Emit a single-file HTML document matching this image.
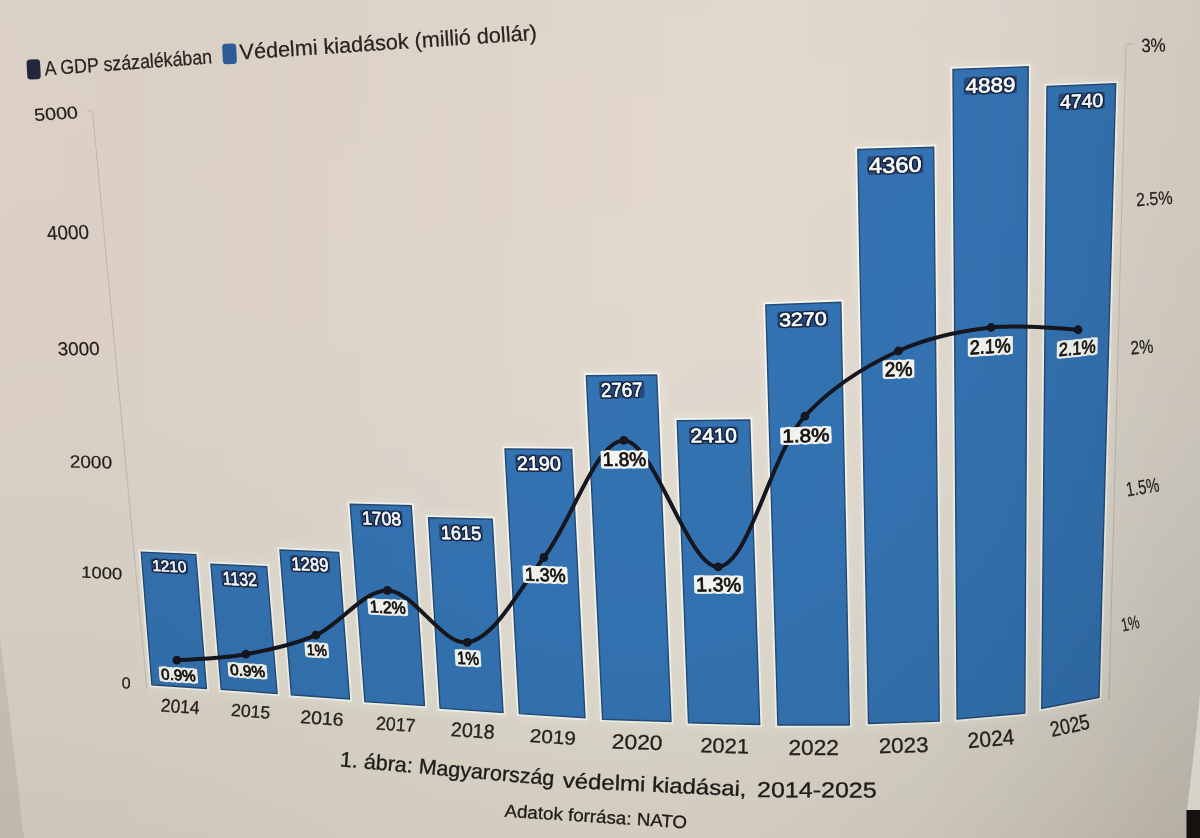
<!DOCTYPE html>
<html><head><meta charset="utf-8"><style>
html,body{margin:0;padding:0;width:1200px;height:838px;overflow:hidden;background:#cfc2b2}
svg{display:block}
text{font-family:"Liberation Sans",Arial,sans-serif}
.ax{fill:#221e1b;stroke:#221e1b;stroke-width:0.2px}
.yr{fill:#28221e;stroke:#28221e;stroke-width:0.3px}
.leg{fill:#2a2421;stroke:#2a2421;stroke-width:0.25px}
.cap{fill:#211c19;stroke:#211c19;stroke-width:0.35px}
.src{fill:#211c19;stroke:#211c19;stroke-width:0.3px}
.val{fill:#ffffff;stroke:#ffffff;stroke-width:0.7px;stroke-linejoin:round;text-anchor:middle}
.vhalo{fill:#15233f;stroke:#15233f;stroke-width:3.6px;stroke-linejoin:round;text-anchor:middle}
.pct{fill:#160f0a;stroke:#160f0a;stroke-width:0.75px;text-anchor:middle}
.phalo{fill:#fffdf7;stroke:#fffdf7;stroke-width:5px;stroke-linejoin:round;text-anchor:middle}
.pbox{fill:#fffdf7}
.vbox{fill:#1b2c50;opacity:0.55}
.ax,.yr{text-anchor:middle}
.illum{mix-blend-mode:multiply}
</style></head><body>
<svg width="1200" height="838" viewBox="0 0 1200 838">
<defs>
<filter id="bgblur" x="-5%" y="-5%" width="110%" height="110%"><feGaussianBlur stdDeviation="0 5"/></filter>
<filter id="glow" x="-20%" y="-20%" width="140%" height="140%"><feGaussianBlur stdDeviation="3"/></filter>
<filter id="soft" x="-5%" y="-5%" width="110%" height="110%"><feGaussianBlur stdDeviation="0.6"/></filter>
</defs>
<rect x="0" y="0" width="1200" height="838" fill="rgb(226,216,205)"/>
<g stroke="#b1aa9d" stroke-width="1" fill="none" opacity="0.6">
<path d="M92.5,111 L147,690"/>
<path d="M87,110.6 L92.5,111"/>
<path d="M1126,44 L1109,700"/>
<path d="M1126,44 L1134,43.8"/>
</g>
<g fill="none" stroke="#fffaf2" stroke-width="14" stroke-linejoin="round" opacity="0.16" filter="url(#glow)">
<polygon points="141.25,552.1 195.8,554.6 206.4,688.4 151.9,684.75"/>
<polygon points="210.9,564.3 266.7,566.7 277.1,693.4 221.2,689.3"/>
<polygon points="280,550 338.7,552.3 349.5,699 291.4,694.8"/>
<polygon points="350.2,504.25 411.25,505.75 424.5,705.6 364.9,701.7"/>
<polygon points="428.5,517.75 492.25,519.25 503,712.5 440.1,708.2"/>
<polygon points="505,448.9 571.6,449.5 585,717.8 519.4,713.6"/>
<polygon points="586.3,375.8 656.7,375 671,721.5 602.6,719.2"/>
<polygon points="677.2,420.8 749.7,420 759.7,724.5 688.5,722.7"/>
<polygon points="765.8,305 840.8,302.2 849.4,725 777.9,725"/>
<polygon points="857.8,149.5 933.7,147.2 939.2,721.1 868.5,723.5"/>
<polygon points="953,69.5 1028.2,66.7 1024.8,713.2 957.1,719"/>
<polygon points="1047,86.5 1115.7,83.7 1099,697.3 1041.8,708.5"/>
</g>
<g fill="none" stroke="#f8f7f2" stroke-width="5" stroke-linejoin="miter">
<polygon points="141.25,552.1 195.8,554.6 206.4,688.4 151.9,684.75"/>
<polygon points="210.9,564.3 266.7,566.7 277.1,693.4 221.2,689.3"/>
<polygon points="280,550 338.7,552.3 349.5,699 291.4,694.8"/>
<polygon points="350.2,504.25 411.25,505.75 424.5,705.6 364.9,701.7"/>
<polygon points="428.5,517.75 492.25,519.25 503,712.5 440.1,708.2"/>
<polygon points="505,448.9 571.6,449.5 585,717.8 519.4,713.6"/>
<polygon points="586.3,375.8 656.7,375 671,721.5 602.6,719.2"/>
<polygon points="677.2,420.8 749.7,420 759.7,724.5 688.5,722.7"/>
<polygon points="765.8,305 840.8,302.2 849.4,725 777.9,725"/>
<polygon points="857.8,149.5 933.7,147.2 939.2,721.1 868.5,723.5"/>
<polygon points="953,69.5 1028.2,66.7 1024.8,713.2 957.1,719"/>
<polygon points="1047,86.5 1115.7,83.7 1099,697.3 1041.8,708.5"/>
</g>
<g fill="#3473b3" stroke="#264a74" stroke-width="1.4" stroke-linejoin="miter">
<polygon points="141.25,552.1 195.8,554.6 206.4,688.4 151.9,684.75"/>
<polygon points="210.9,564.3 266.7,566.7 277.1,693.4 221.2,689.3"/>
<polygon points="280,550 338.7,552.3 349.5,699 291.4,694.8"/>
<polygon points="350.2,504.25 411.25,505.75 424.5,705.6 364.9,701.7"/>
<polygon points="428.5,517.75 492.25,519.25 503,712.5 440.1,708.2"/>
<polygon points="505,448.9 571.6,449.5 585,717.8 519.4,713.6"/>
<polygon points="586.3,375.8 656.7,375 671,721.5 602.6,719.2"/>
<polygon points="677.2,420.8 749.7,420 759.7,724.5 688.5,722.7"/>
<polygon points="765.8,305 840.8,302.2 849.4,725 777.9,725"/>
<polygon points="857.8,149.5 933.7,147.2 939.2,721.1 868.5,723.5"/>
<polygon points="953,69.5 1028.2,66.7 1024.8,713.2 957.1,719"/>
<polygon points="1047,86.5 1115.7,83.7 1099,697.3 1041.8,708.5"/>
</g>
<path d="M176.9,660.1 C176.9,660.1 222.92,658.25 245.8,654.2 C269.23,650.05 293.04,645.14 315.8,635.2 C340.37,624.47 363.02,590.18 387.5,590.4 C413.48,590.63 442.37,645.59 467.4,642.3 C494.82,638.7 519.15,588.88 543.9,557.4 C571.46,522.35 595.62,441 623.8,440.4 C653.54,439.77 688.65,568.56 718.2,566.8 C749.21,564.95 770.71,453.49 804.9,416.2 C832.59,386 865.89,365.85 898.4,351 C928.18,337.39 960.46,330.92 991.1,327.5 C1020.33,324.24 1078.1,329.75 1078.1,329.75" fill="none" stroke="#15161f" stroke-width="4" stroke-linecap="round" stroke-linejoin="round"/>
<g fill="#15161f">
<circle cx="176.9" cy="660.1" r="4.4"/>
<circle cx="245.8" cy="654.2" r="4.4"/>
<circle cx="315.8" cy="635.2" r="4.4"/>
<circle cx="387.5" cy="590.4" r="4.4"/>
<circle cx="467.4" cy="642.3" r="4.4"/>
<circle cx="543.9" cy="557.4" r="4.4"/>
<circle cx="623.8" cy="440.4" r="4.4"/>
<circle cx="718.2" cy="566.8" r="4.4"/>
<circle cx="804.9" cy="416.2" r="4.4"/>
<circle cx="898.4" cy="351" r="4.4"/>
<circle cx="991.1" cy="327.5" r="4.4"/>
<circle cx="1078.1" cy="329.75" r="4.4"/>
</g>
<g opacity="0.96">
<rect class="pbox" transform="matrix(0.9979 0.0650 0.0795 0.9968 178.4 675)" x="-19.29" y="-7.39" width="38.57" height="14.78" rx="1.5"/>
<text class="phalo" transform="matrix(0.9979 0.0650 0.0795 0.9968 178.4 675)" y="5.39" font-size="15.39" textLength="34.57" lengthAdjust="spacingAndGlyphs">0.9%</text>
<rect class="pbox" transform="matrix(0.9977 0.0682 0.0820 0.9966 247.5 670.7)" x="-19.58" y="-7.31" width="39.16" height="14.63" rx="1.5"/>
<text class="phalo" transform="matrix(0.9977 0.0682 0.0820 0.9966 247.5 670.7)" y="5.31" font-size="15.18" textLength="35.16" lengthAdjust="spacingAndGlyphs">0.9%</text>
<rect class="pbox" transform="matrix(0.9981 0.0615 0.0760 0.9971 316.75 650)" x="-11.94" y="-7.4" width="23.87" height="14.8" rx="1.5"/>
<text class="phalo" transform="matrix(0.9981 0.0615 0.0760 0.9971 316.75 650)" y="5.4" font-size="15.43" textLength="19.87" lengthAdjust="spacingAndGlyphs">1%</text>
<rect class="pbox" transform="matrix(0.9990 0.0455 0.0702 0.9975 387.75 607.25)" x="-20" y="-7.94" width="40" height="15.87" rx="1.5"/>
<text class="phalo" transform="matrix(0.9990 0.0455 0.0702 0.9975 387.75 607.25)" y="5.94" font-size="16.96" textLength="36" lengthAdjust="spacingAndGlyphs">1.2%</text>
<rect class="pbox" transform="matrix(0.9984 0.0561 0.0582 0.9983 468 658.15)" x="-12.97" y="-8.25" width="25.93" height="16.49" rx="1.5"/>
<text class="phalo" transform="matrix(0.9984 0.0561 0.0582 0.9983 468 658.15)" y="6.25" font-size="17.84" textLength="21.93" lengthAdjust="spacingAndGlyphs">1%</text>
<rect class="pbox" transform="matrix(0.9994 0.0349 0.0521 0.9986 545.2 574.75)" x="-22.38" y="-8.54" width="44.77" height="17.09" rx="1.5"/>
<text class="phalo" transform="matrix(0.9994 0.0349 0.0521 0.9986 545.2 574.75)" y="6.54" font-size="18.69" textLength="40.77" lengthAdjust="spacingAndGlyphs">1.3%</text>
<rect class="pbox" transform="matrix(1.0000 -0.0004 0.0444 0.9990 624.45 459.55)" x="-23.65" y="-8.84" width="47.29" height="17.68" rx="1.5"/>
<text class="phalo" transform="matrix(1.0000 -0.0004 0.0444 0.9990 624.45 459.55)" y="6.84" font-size="19.55" textLength="43.29" lengthAdjust="spacingAndGlyphs">1.8%</text>
<rect class="pbox" transform="matrix(1.0000 0.0086 0.0351 0.9994 718.65 584.45)" x="-24.59" y="-8.96" width="49.18" height="17.91" rx="1.5"/>
<text class="phalo" transform="matrix(1.0000 0.0086 0.0351 0.9994 718.65 584.45)" y="6.96" font-size="19.87" textLength="45.18" lengthAdjust="spacingAndGlyphs">1.3%</text>
<rect class="pbox" transform="matrix(0.9997 -0.0256 0.0246 0.9997 805.85 435.4)" x="-25.59" y="-8.6" width="51.18" height="17.19" rx="1.5"/>
<text class="phalo" transform="matrix(0.9997 -0.0256 0.0246 0.9997 805.85 435.4)" y="6.6" font-size="18.85" textLength="47.18" lengthAdjust="spacingAndGlyphs">1.8%</text>
<rect class="pbox" transform="matrix(0.9995 -0.0317 0.0142 0.9999 898.5 369.05)" x="-15.88" y="-9.11" width="31.76" height="18.23" rx="1.5"/>
<text class="phalo" transform="matrix(0.9995 -0.0317 0.0142 0.9999 898.5 369.05)" y="7.11" font-size="20.32" textLength="27.76" lengthAdjust="spacingAndGlyphs">2%</text>
<rect class="pbox" transform="matrix(0.9983 -0.0579 0.0006 1.0000 990.35 346.25)" x="-22.58" y="-8.97" width="45.16" height="17.94" rx="1.5"/>
<text class="phalo" transform="matrix(0.9983 -0.0579 0.0006 1.0000 990.35 346.25)" y="6.97" font-size="19.91" textLength="41.16" lengthAdjust="spacingAndGlyphs">2.1%</text>
<rect class="pbox" transform="matrix(0.9944 -0.1054 -0.0179 0.9998 1077.2 347.85)" x="-20.51" y="-8.53" width="41.03" height="17.07" rx="1.5"/>
<text class="phalo" transform="matrix(0.9944 -0.1054 -0.0179 0.9998 1077.2 347.85)" y="6.53" font-size="18.67" textLength="37.03" lengthAdjust="spacingAndGlyphs">2.1%</text>
</g>
<rect class="vbox" transform="matrix(0.9989 0.0478 0.0795 0.9968 169.4 566.25)" x="-18.66" y="-7.04" width="37.32" height="14.08" rx="2.5"/>
<text class="vhalo" transform="matrix(0.9989 0.0478 0.0795 0.9968 169.4 566.25)" y="5.44" font-size="15.54" textLength="34.12" lengthAdjust="spacingAndGlyphs">1210</text>
<rect class="vbox" transform="matrix(0.9989 0.0462 0.0820 0.9966 239.8 578.85)" x="-18.61" y="-8.17" width="37.23" height="16.34" rx="2.5"/>
<text class="vhalo" transform="matrix(0.9989 0.0462 0.0820 0.9966 239.8 578.85)" y="6.57" font-size="18.78" textLength="34.03" lengthAdjust="spacingAndGlyphs">1132</text>
<rect class="vbox" transform="matrix(0.9991 0.0421 0.0760 0.9971 309.95 564.2)" x="-19.99" y="-8.13" width="39.98" height="16.26" rx="2.5"/>
<text class="vhalo" transform="matrix(0.9991 0.0421 0.0760 0.9971 309.95 564.2)" y="6.53" font-size="18.66" textLength="36.78" lengthAdjust="spacingAndGlyphs">1289</text>
<rect class="vbox" transform="matrix(0.9996 0.0273 0.0702 0.9975 381.57 518.42)" x="-21.1" y="-8.24" width="42.2" height="16.49" rx="2.5"/>
<text class="vhalo" transform="matrix(0.9996 0.0273 0.0702 0.9975 381.57 518.42)" y="6.64" font-size="18.99" textLength="39" lengthAdjust="spacingAndGlyphs">1708</text>
<rect class="vbox" transform="matrix(0.9996 0.0269 0.0582 0.9983 460.93 532.8)" x="-21.75" y="-8.26" width="43.51" height="16.52" rx="2.5"/>
<text class="vhalo" transform="matrix(0.9996 0.0269 0.0582 0.9983 460.93 532.8)" y="6.66" font-size="19.03" textLength="40.31" lengthAdjust="spacingAndGlyphs">1615</text>
<rect class="vbox" transform="matrix(0.9999 0.0119 0.0521 0.9986 538.8 463.2)" x="-23.52" y="-8.54" width="47.04" height="17.08" rx="2.5"/>
<text class="vhalo" transform="matrix(0.9999 0.0119 0.0521 0.9986 538.8 463.2)" y="6.94" font-size="19.83" textLength="43.84" lengthAdjust="spacingAndGlyphs">2190</text>
<rect class="vbox" transform="matrix(1.0000 -0.0095 0.0444 0.9990 621.8 389.7)" x="-22.53" y="-8.6" width="45.07" height="17.2" rx="2.5"/>
<text class="vhalo" transform="matrix(1.0000 -0.0095 0.0444 0.9990 621.8 389.7)" y="7" font-size="20" textLength="41.87" lengthAdjust="spacingAndGlyphs">2767</text>
<rect class="vbox" transform="matrix(1.0000 -0.0092 0.0351 0.9994 713.7 435.4)" x="-24.74" y="-8.59" width="49.47" height="17.17" rx="2.5"/>
<text class="vhalo" transform="matrix(1.0000 -0.0092 0.0351 0.9994 713.7 435.4)" y="6.99" font-size="19.96" textLength="46.27" lengthAdjust="spacingAndGlyphs">2410</text>
<rect class="vbox" transform="matrix(0.9994 -0.0359 0.0247 0.9997 802.83 319.1)" x="-25.46" y="-8.15" width="50.91" height="16.29" rx="2.5"/>
<text class="vhalo" transform="matrix(0.9994 -0.0359 0.0247 0.9997 802.83 319.1)" y="6.55" font-size="18.71" textLength="47.71" lengthAdjust="spacingAndGlyphs">3270</text>
<rect class="vbox" transform="matrix(0.9995 -0.0304 0.0142 0.9999 895.27 164.85)" x="-27.9" y="-9.25" width="55.81" height="18.51" rx="2.5"/>
<text class="vhalo" transform="matrix(0.9995 -0.0304 0.0142 0.9999 895.27 164.85)" y="7.65" font-size="21.87" textLength="52.61" lengthAdjust="spacingAndGlyphs">4360</text>
<rect class="vbox" transform="matrix(0.9993 -0.0385 0.0005 1.0000 990.5 85.2)" x="-26.54" y="-8.75" width="53.09" height="17.49" rx="2.5"/>
<text class="vhalo" transform="matrix(0.9993 -0.0385 0.0005 1.0000 990.5 85.2)" y="7.15" font-size="20.42" textLength="49.89" lengthAdjust="spacingAndGlyphs">4889</text>
<rect class="vbox" transform="matrix(0.9990 -0.0447 -0.0179 0.9998 1081.65 101.05)" x="-23.27" y="-8.39" width="46.54" height="16.78" rx="2.5"/>
<text class="vhalo" transform="matrix(0.9990 -0.0447 -0.0179 0.9998 1081.65 101.05)" y="6.79" font-size="19.4" textLength="43.34" lengthAdjust="spacingAndGlyphs">4740</text>
<g>
<text class="ax" transform="matrix(0.9983 -0.0584 0.1106 0.9939 55.95 113.55)" y="6.08" font-size="17.37" textLength="43.86" lengthAdjust="spacingAndGlyphs">5000</text>
<text class="ax" transform="matrix(0.9995 -0.0307 0.0830 0.9966 67.9 232.25)" y="7.01" font-size="20.03" textLength="41.99" lengthAdjust="spacingAndGlyphs">4000</text>
<text class="ax" transform="matrix(1.0000 -0.0035 0.0558 0.9984 78.6 348.5)" y="6.63" font-size="18.93" textLength="41.95" lengthAdjust="spacingAndGlyphs">3000</text>
<text class="ax" transform="matrix(0.9997 0.0230 0.0294 0.9996 90.9 461.7)" y="6.22" font-size="17.76" textLength="42.33" lengthAdjust="spacingAndGlyphs">2000</text>
<text class="ax" transform="matrix(0.9988 0.0490 0.0034 1.0000 101.8 572.9)" y="5.7" font-size="16.29" textLength="41.09" lengthAdjust="spacingAndGlyphs">1000</text>
<text class="ax" transform="matrix(0.9972 0.0747 -0.0224 0.9997 126.05 683)" y="5.68" font-size="16.22" textLength="9.08" lengthAdjust="spacingAndGlyphs">0</text>
<text class="ax" transform="matrix(0.9994 -0.0349 0.0349 0.9994 1153.4 45.05)" y="6.73" font-size="19.22" textLength="24.55" lengthAdjust="spacingAndGlyphs">3%</text>
<text class="ax" transform="matrix(0.9976 -0.0698 0.0698 0.9976 1154.3 198.4)" y="6.54" font-size="18.69" textLength="36.58" lengthAdjust="spacingAndGlyphs">2.5%</text>
<text class="ax" transform="matrix(0.9962 -0.0872 0.0872 0.9962 1141.7 346.7)" y="6.73" font-size="19.22" textLength="22.91" lengthAdjust="spacingAndGlyphs">2%</text>
<text class="ax" transform="matrix(0.9877 -0.1564 0.1564 0.9877 1142.5 486.95)" y="7.04" font-size="20.11" textLength="33.21" lengthAdjust="spacingAndGlyphs">1.5%</text>
<text class="ax" transform="matrix(0.9781 -0.2079 0.2079 0.9781 1130.2 623.2)" y="6.46" font-size="18.45" textLength="18.11" lengthAdjust="spacingAndGlyphs">1%</text>
<text class="yr" transform="matrix(0.9978 0.0663 -0.0663 0.9978 180.3 706.3)" y="6.53" font-size="18.65" textLength="38.82" lengthAdjust="spacingAndGlyphs">2014</text>
<text class="yr" transform="matrix(0.9973 0.0732 -0.0732 0.9973 250.6 711.15)" y="6.14" font-size="17.54" textLength="39.01" lengthAdjust="spacingAndGlyphs">2015</text>
<text class="yr" transform="matrix(0.9974 0.0715 -0.0715 0.9974 322 718)" y="6.47" font-size="18.49" textLength="43.18" lengthAdjust="spacingAndGlyphs">2016</text>
<text class="yr" transform="matrix(0.9979 0.0645 -0.0645 0.9979 395.8 724.2)" y="6.55" font-size="18.71" textLength="39.24" lengthAdjust="spacingAndGlyphs">2017</text>
<text class="yr" transform="matrix(0.9977 0.0680 -0.0680 0.9977 472.75 730.5)" y="7.03" font-size="20.09" textLength="43.64" lengthAdjust="spacingAndGlyphs">2018</text>
<text class="yr" transform="matrix(0.9979 0.0645 -0.0645 0.9979 552.9 736.9)" y="6.63" font-size="18.96" textLength="45.84" lengthAdjust="spacingAndGlyphs">2019</text>
<text class="yr" transform="matrix(0.9995 0.0332 -0.0332 0.9995 637.15 742.05)" y="7.31" font-size="20.89" textLength="50.84" lengthAdjust="spacingAndGlyphs">2020</text>
<text class="yr" transform="matrix(0.9997 0.0244 -0.0244 0.9997 724.7 745.65)" y="7.26" font-size="20.74" textLength="48.66" lengthAdjust="spacingAndGlyphs">2021</text>
<text class="yr" transform="matrix(1.0000 0.0000 -0.0000 1.0000 813.7 746.95)" y="7.95" font-size="22.71" textLength="50.6" lengthAdjust="spacingAndGlyphs">2022</text>
<text class="yr" transform="matrix(0.9997 -0.0262 0.0262 0.9997 903.6 745.15)" y="7.5" font-size="21.43" textLength="49.82" lengthAdjust="spacingAndGlyphs">2023</text>
<text class="yr" transform="matrix(0.9962 -0.0872 0.0872 0.9962 991 738.5)" y="7.69" font-size="21.97" textLength="46.84" lengthAdjust="spacingAndGlyphs">2024</text>
<text class="yr" transform="matrix(0.9763 -0.2164 0.2164 0.9763 1069.8 725.35)" y="7.53" font-size="21.53" textLength="39.68" lengthAdjust="spacingAndGlyphs">2025</text>
<text class="val" transform="matrix(0.9989 0.0478 0.0795 0.9968 169.4 566.25)" y="5.44" font-size="15.54" textLength="34.12" lengthAdjust="spacingAndGlyphs">1210</text>
<text class="val" transform="matrix(0.9989 0.0462 0.0820 0.9966 239.8 578.85)" y="6.57" font-size="18.78" textLength="34.03" lengthAdjust="spacingAndGlyphs">1132</text>
<text class="val" transform="matrix(0.9991 0.0421 0.0760 0.9971 309.95 564.2)" y="6.53" font-size="18.66" textLength="36.78" lengthAdjust="spacingAndGlyphs">1289</text>
<text class="val" transform="matrix(0.9996 0.0273 0.0702 0.9975 381.57 518.42)" y="6.64" font-size="18.99" textLength="39" lengthAdjust="spacingAndGlyphs">1708</text>
<text class="val" transform="matrix(0.9996 0.0269 0.0582 0.9983 460.93 532.8)" y="6.66" font-size="19.03" textLength="40.31" lengthAdjust="spacingAndGlyphs">1615</text>
<text class="val" transform="matrix(0.9999 0.0119 0.0521 0.9986 538.8 463.2)" y="6.94" font-size="19.83" textLength="43.84" lengthAdjust="spacingAndGlyphs">2190</text>
<text class="val" transform="matrix(1.0000 -0.0095 0.0444 0.9990 621.8 389.7)" y="7" font-size="20" textLength="41.87" lengthAdjust="spacingAndGlyphs">2767</text>
<text class="val" transform="matrix(1.0000 -0.0092 0.0351 0.9994 713.7 435.4)" y="6.99" font-size="19.96" textLength="46.27" lengthAdjust="spacingAndGlyphs">2410</text>
<text class="val" transform="matrix(0.9994 -0.0359 0.0247 0.9997 802.83 319.1)" y="6.55" font-size="18.71" textLength="47.71" lengthAdjust="spacingAndGlyphs">3270</text>
<text class="val" transform="matrix(0.9995 -0.0304 0.0142 0.9999 895.27 164.85)" y="7.65" font-size="21.87" textLength="52.61" lengthAdjust="spacingAndGlyphs">4360</text>
<text class="val" transform="matrix(0.9993 -0.0385 0.0005 1.0000 990.5 85.2)" y="7.15" font-size="20.42" textLength="49.89" lengthAdjust="spacingAndGlyphs">4889</text>
<text class="val" transform="matrix(0.9990 -0.0447 -0.0179 0.9998 1081.65 101.05)" y="6.79" font-size="19.4" textLength="43.34" lengthAdjust="spacingAndGlyphs">4740</text>
<text class="pct" transform="matrix(0.9979 0.0650 0.0795 0.9968 178.4 675)" y="5.39" font-size="15.39" textLength="34.57" lengthAdjust="spacingAndGlyphs">0.9%</text>
<text class="pct" transform="matrix(0.9977 0.0682 0.0820 0.9966 247.5 670.7)" y="5.31" font-size="15.18" textLength="35.16" lengthAdjust="spacingAndGlyphs">0.9%</text>
<text class="pct" transform="matrix(0.9981 0.0615 0.0760 0.9971 316.75 650)" y="5.4" font-size="15.43" textLength="19.87" lengthAdjust="spacingAndGlyphs">1%</text>
<text class="pct" transform="matrix(0.9990 0.0455 0.0702 0.9975 387.75 607.25)" y="5.94" font-size="16.96" textLength="36" lengthAdjust="spacingAndGlyphs">1.2%</text>
<text class="pct" transform="matrix(0.9984 0.0561 0.0582 0.9983 468 658.15)" y="6.25" font-size="17.84" textLength="21.93" lengthAdjust="spacingAndGlyphs">1%</text>
<text class="pct" transform="matrix(0.9994 0.0349 0.0521 0.9986 545.2 574.75)" y="6.54" font-size="18.69" textLength="40.77" lengthAdjust="spacingAndGlyphs">1.3%</text>
<text class="pct" transform="matrix(1.0000 -0.0004 0.0444 0.9990 624.45 459.55)" y="6.84" font-size="19.55" textLength="43.29" lengthAdjust="spacingAndGlyphs">1.8%</text>
<text class="pct" transform="matrix(1.0000 0.0086 0.0351 0.9994 718.65 584.45)" y="6.96" font-size="19.87" textLength="45.18" lengthAdjust="spacingAndGlyphs">1.3%</text>
<text class="pct" transform="matrix(0.9997 -0.0256 0.0246 0.9997 805.85 435.4)" y="6.6" font-size="18.85" textLength="47.18" lengthAdjust="spacingAndGlyphs">1.8%</text>
<text class="pct" transform="matrix(0.9995 -0.0317 0.0142 0.9999 898.5 369.05)" y="7.11" font-size="20.32" textLength="27.76" lengthAdjust="spacingAndGlyphs">2%</text>
<text class="pct" transform="matrix(0.9983 -0.0579 0.0006 1.0000 990.35 346.25)" y="6.97" font-size="19.91" textLength="41.16" lengthAdjust="spacingAndGlyphs">2.1%</text>
<text class="pct" transform="matrix(0.9944 -0.1054 -0.0179 0.9998 1077.2 347.85)" y="6.53" font-size="18.67" textLength="37.03" lengthAdjust="spacingAndGlyphs">2.1%</text>
</g>
<g>
<text class="leg" transform="translate(45 75.5) rotate(-4.17)" font-size="20.06" textLength="167.94" lengthAdjust="spacingAndGlyphs">A GDP százalékában</text>
<text class="leg" transform="translate(240 59.5) rotate(-3.79)" font-size="21.51" textLength="297.95" lengthAdjust="spacingAndGlyphs">Védelmi kiadások (millió dollár)</text>
<rect x="0" y="0" width="13.5" height="20" rx="3.5" fill="#25273f" transform="translate(26.4 59.8) rotate(-3)"/>
<rect x="0" y="0" width="14" height="20.5" rx="3.5" fill="#315f9c" transform="translate(222 44) rotate(-3)"/>
</g>
<text class="src" transform="translate(504.2 816.7) rotate(3.64)" font-size="17.73" textLength="182.87" lengthAdjust="spacingAndGlyphs">Adatok forrása: NATO</text>
<text class="cap" transform="translate(339.6 766.3) rotate(5.12)" font-size="21.22" textLength="215.01" lengthAdjust="spacingAndGlyphs">1. ábra: Magyarország</text>
<text class="cap" transform="translate(562.5 787.6) rotate(2.71)" font-size="21.22" textLength="183.91" lengthAdjust="spacingAndGlyphs">védelmi kiadásai,</text>
<text class="cap" transform="translate(757 797.1) rotate(0.19)" font-size="21.66" textLength="119.7" lengthAdjust="spacingAndGlyphs">2014-2025</text>
<g class="illum" filter="url(#bgblur)">
<defs><linearGradient id="g0" x1="0" x2="1" y1="0" y2="0"><stop offset="0.0000" stop-color="#f8f7f8"/><stop offset="0.0625" stop-color="#f8f7f7"/><stop offset="0.1250" stop-color="#f7f6f7"/><stop offset="0.1875" stop-color="#f7f6f7"/><stop offset="0.2500" stop-color="#f8f7f8"/><stop offset="0.3125" stop-color="#f9f8f9"/><stop offset="0.3750" stop-color="#fafafa"/><stop offset="0.4375" stop-color="#fbfbfc"/><stop offset="0.5000" stop-color="#fdfdfd"/><stop offset="0.5625" stop-color="#fdfefe"/><stop offset="0.6250" stop-color="#fdfeff"/><stop offset="0.6875" stop-color="#fdfefe"/><stop offset="0.7500" stop-color="#fbfcfd"/><stop offset="0.8125" stop-color="#f8fafa"/><stop offset="0.8750" stop-color="#f4f5f5"/><stop offset="0.9375" stop-color="#eef0ef"/><stop offset="1.0000" stop-color="#ebeceb"/></linearGradient><linearGradient id="g1" x1="0" x2="1" y1="0" y2="0"><stop offset="0.0000" stop-color="#f8f7f8"/><stop offset="0.0625" stop-color="#f8f7f7"/><stop offset="0.1250" stop-color="#f7f6f7"/><stop offset="0.1875" stop-color="#f7f6f7"/><stop offset="0.2500" stop-color="#f8f7f8"/><stop offset="0.3125" stop-color="#f9f8f9"/><stop offset="0.3750" stop-color="#fafafa"/><stop offset="0.4375" stop-color="#fbfbfc"/><stop offset="0.5000" stop-color="#fdfdfd"/><stop offset="0.5625" stop-color="#fdfefe"/><stop offset="0.6250" stop-color="#fdfeff"/><stop offset="0.6875" stop-color="#fdfefe"/><stop offset="0.7500" stop-color="#fbfcfd"/><stop offset="0.8125" stop-color="#f8fafa"/><stop offset="0.8750" stop-color="#f4f5f5"/><stop offset="0.9375" stop-color="#eef0ef"/><stop offset="1.0000" stop-color="#ebeceb"/></linearGradient><linearGradient id="g2" x1="0" x2="1" y1="0" y2="0"><stop offset="0.0000" stop-color="#f8f7f8"/><stop offset="0.0625" stop-color="#f8f7f7"/><stop offset="0.1250" stop-color="#f7f6f7"/><stop offset="0.1875" stop-color="#f7f6f7"/><stop offset="0.2500" stop-color="#f8f7f8"/><stop offset="0.3125" stop-color="#f9f8f9"/><stop offset="0.3750" stop-color="#fafafa"/><stop offset="0.4375" stop-color="#fbfbfc"/><stop offset="0.5000" stop-color="#fdfdfd"/><stop offset="0.5625" stop-color="#fdfefe"/><stop offset="0.6250" stop-color="#fdfeff"/><stop offset="0.6875" stop-color="#fdfefe"/><stop offset="0.7500" stop-color="#fbfcfd"/><stop offset="0.8125" stop-color="#f8fafa"/><stop offset="0.8750" stop-color="#f4f5f5"/><stop offset="0.9375" stop-color="#eef0ef"/><stop offset="1.0000" stop-color="#ebeceb"/></linearGradient><linearGradient id="g3" x1="0" x2="1" y1="0" y2="0"><stop offset="0.0000" stop-color="#f9f7f8"/><stop offset="0.0625" stop-color="#f8f7f7"/><stop offset="0.1250" stop-color="#f7f6f6"/><stop offset="0.1875" stop-color="#f7f6f7"/><stop offset="0.2500" stop-color="#f8f7f8"/><stop offset="0.3125" stop-color="#f9f8f9"/><stop offset="0.3750" stop-color="#fafafa"/><stop offset="0.4375" stop-color="#fcfbfc"/><stop offset="0.5000" stop-color="#fdfdfd"/><stop offset="0.5625" stop-color="#fdfefe"/><stop offset="0.6250" stop-color="#fefeff"/><stop offset="0.6875" stop-color="#fdfefe"/><stop offset="0.7500" stop-color="#fbfcfd"/><stop offset="0.8125" stop-color="#f8fafa"/><stop offset="0.8750" stop-color="#f4f5f5"/><stop offset="0.9375" stop-color="#eef0ef"/><stop offset="1.0000" stop-color="#ebeceb"/></linearGradient><linearGradient id="g4" x1="0" x2="1" y1="0" y2="0"><stop offset="0.0000" stop-color="#f9f7f8"/><stop offset="0.0625" stop-color="#f8f7f7"/><stop offset="0.1250" stop-color="#f7f6f6"/><stop offset="0.1875" stop-color="#f7f6f7"/><stop offset="0.2500" stop-color="#f8f7f8"/><stop offset="0.3125" stop-color="#f9f8f9"/><stop offset="0.3750" stop-color="#fafafa"/><stop offset="0.4375" stop-color="#fcfbfc"/><stop offset="0.5000" stop-color="#fdfdfd"/><stop offset="0.5625" stop-color="#fefefe"/><stop offset="0.6250" stop-color="#fefeff"/><stop offset="0.6875" stop-color="#fdfefe"/><stop offset="0.7500" stop-color="#fbfcfd"/><stop offset="0.8125" stop-color="#f8fafa"/><stop offset="0.8750" stop-color="#f4f5f5"/><stop offset="0.9375" stop-color="#eef0ef"/><stop offset="1.0000" stop-color="#ebeceb"/></linearGradient><linearGradient id="g5" x1="0" x2="1" y1="0" y2="0"><stop offset="0.0000" stop-color="#f9f7f8"/><stop offset="0.0625" stop-color="#f8f6f7"/><stop offset="0.1250" stop-color="#f7f6f6"/><stop offset="0.1875" stop-color="#f7f6f7"/><stop offset="0.2500" stop-color="#f8f7f7"/><stop offset="0.3125" stop-color="#f9f8f9"/><stop offset="0.3750" stop-color="#fafafa"/><stop offset="0.4375" stop-color="#fcfbfc"/><stop offset="0.5000" stop-color="#fdfdfd"/><stop offset="0.5625" stop-color="#fefefe"/><stop offset="0.6250" stop-color="#fefeff"/><stop offset="0.6875" stop-color="#fdfefe"/><stop offset="0.7500" stop-color="#fbfcfd"/><stop offset="0.8125" stop-color="#f9fafa"/><stop offset="0.8750" stop-color="#f4f5f5"/><stop offset="0.9375" stop-color="#eeefef"/><stop offset="1.0000" stop-color="#eaeceb"/></linearGradient><linearGradient id="g6" x1="0" x2="1" y1="0" y2="0"><stop offset="0.0000" stop-color="#f9f7f8"/><stop offset="0.0625" stop-color="#f8f6f7"/><stop offset="0.1250" stop-color="#f7f6f6"/><stop offset="0.1875" stop-color="#f7f6f7"/><stop offset="0.2500" stop-color="#f8f7f7"/><stop offset="0.3125" stop-color="#f9f8f9"/><stop offset="0.3750" stop-color="#fbfafa"/><stop offset="0.4375" stop-color="#fcfbfc"/><stop offset="0.5000" stop-color="#fdfdfd"/><stop offset="0.5625" stop-color="#fefefe"/><stop offset="0.6250" stop-color="#fefeff"/><stop offset="0.6875" stop-color="#fdfefe"/><stop offset="0.7500" stop-color="#fcfcfc"/><stop offset="0.8125" stop-color="#f9f9f9"/><stop offset="0.8750" stop-color="#f4f5f5"/><stop offset="0.9375" stop-color="#eeefef"/><stop offset="1.0000" stop-color="#eaeceb"/></linearGradient><linearGradient id="g7" x1="0" x2="1" y1="0" y2="0"><stop offset="0.0000" stop-color="#f9f7f8"/><stop offset="0.0625" stop-color="#f8f6f7"/><stop offset="0.1250" stop-color="#f7f6f6"/><stop offset="0.1875" stop-color="#f8f6f7"/><stop offset="0.2500" stop-color="#f8f7f7"/><stop offset="0.3125" stop-color="#f9f8f9"/><stop offset="0.3750" stop-color="#fbfafa"/><stop offset="0.4375" stop-color="#fcfcfc"/><stop offset="0.5000" stop-color="#fdfdfe"/><stop offset="0.5625" stop-color="#fefefe"/><stop offset="0.6250" stop-color="#fefeff"/><stop offset="0.6875" stop-color="#fdfefe"/><stop offset="0.7500" stop-color="#fcfcfc"/><stop offset="0.8125" stop-color="#f9f9f9"/><stop offset="0.8750" stop-color="#f4f5f5"/><stop offset="0.9375" stop-color="#eeefef"/><stop offset="1.0000" stop-color="#eaeceb"/></linearGradient><linearGradient id="g8" x1="0" x2="1" y1="0" y2="0"><stop offset="0.0000" stop-color="#f9f7f8"/><stop offset="0.0625" stop-color="#f8f6f7"/><stop offset="0.1250" stop-color="#f8f6f6"/><stop offset="0.1875" stop-color="#f8f6f7"/><stop offset="0.2500" stop-color="#f8f7f7"/><stop offset="0.3125" stop-color="#faf8f9"/><stop offset="0.3750" stop-color="#fbfafa"/><stop offset="0.4375" stop-color="#fcfcfc"/><stop offset="0.5000" stop-color="#fdfdfe"/><stop offset="0.5625" stop-color="#fefefe"/><stop offset="0.6250" stop-color="#fefeff"/><stop offset="0.6875" stop-color="#fdfefe"/><stop offset="0.7500" stop-color="#fcfcfc"/><stop offset="0.8125" stop-color="#f9f9f9"/><stop offset="0.8750" stop-color="#f4f5f5"/><stop offset="0.9375" stop-color="#eeefee"/><stop offset="1.0000" stop-color="#eaeceb"/></linearGradient><linearGradient id="g9" x1="0" x2="1" y1="0" y2="0"><stop offset="0.0000" stop-color="#f9f7f7"/><stop offset="0.0625" stop-color="#f8f6f7"/><stop offset="0.1250" stop-color="#f8f6f6"/><stop offset="0.1875" stop-color="#f8f6f6"/><stop offset="0.2500" stop-color="#f9f7f7"/><stop offset="0.3125" stop-color="#faf8f9"/><stop offset="0.3750" stop-color="#fbfafb"/><stop offset="0.4375" stop-color="#fcfcfc"/><stop offset="0.5000" stop-color="#fdfdfe"/><stop offset="0.5625" stop-color="#fefeff"/><stop offset="0.6250" stop-color="#fefeff"/><stop offset="0.6875" stop-color="#fdfefe"/><stop offset="0.7500" stop-color="#fcfcfc"/><stop offset="0.8125" stop-color="#f9f9f9"/><stop offset="0.8750" stop-color="#f4f5f5"/><stop offset="0.9375" stop-color="#eeefee"/><stop offset="1.0000" stop-color="#eaebea"/></linearGradient><linearGradient id="g10" x1="0" x2="1" y1="0" y2="0"><stop offset="0.0000" stop-color="#f9f7f7"/><stop offset="0.0625" stop-color="#f8f6f7"/><stop offset="0.1250" stop-color="#f8f6f6"/><stop offset="0.1875" stop-color="#f8f6f6"/><stop offset="0.2500" stop-color="#f9f7f7"/><stop offset="0.3125" stop-color="#faf8f9"/><stop offset="0.3750" stop-color="#fbfafb"/><stop offset="0.4375" stop-color="#fcfcfc"/><stop offset="0.5000" stop-color="#fefdfe"/><stop offset="0.5625" stop-color="#fefeff"/><stop offset="0.6250" stop-color="#fefeff"/><stop offset="0.6875" stop-color="#fefefe"/><stop offset="0.7500" stop-color="#fcfcfc"/><stop offset="0.8125" stop-color="#f9f9f9"/><stop offset="0.8750" stop-color="#f4f5f5"/><stop offset="0.9375" stop-color="#eeefee"/><stop offset="1.0000" stop-color="#eaebea"/></linearGradient><linearGradient id="g11" x1="0" x2="1" y1="0" y2="0"><stop offset="0.0000" stop-color="#f9f7f7"/><stop offset="0.0625" stop-color="#f8f6f7"/><stop offset="0.1250" stop-color="#f8f5f6"/><stop offset="0.1875" stop-color="#f8f6f6"/><stop offset="0.2500" stop-color="#f9f7f7"/><stop offset="0.3125" stop-color="#faf8f9"/><stop offset="0.3750" stop-color="#fbfafb"/><stop offset="0.4375" stop-color="#fdfcfc"/><stop offset="0.5000" stop-color="#fefdfe"/><stop offset="0.5625" stop-color="#fefeff"/><stop offset="0.6250" stop-color="#fefeff"/><stop offset="0.6875" stop-color="#fefefe"/><stop offset="0.7500" stop-color="#fcfcfc"/><stop offset="0.8125" stop-color="#f9f9f9"/><stop offset="0.8750" stop-color="#f4f5f5"/><stop offset="0.9375" stop-color="#eeefee"/><stop offset="1.0000" stop-color="#eaebea"/></linearGradient><linearGradient id="g12" x1="0" x2="1" y1="0" y2="0"><stop offset="0.0000" stop-color="#f9f6f7"/><stop offset="0.0625" stop-color="#f8f6f7"/><stop offset="0.1250" stop-color="#f8f5f6"/><stop offset="0.1875" stop-color="#f8f6f6"/><stop offset="0.2500" stop-color="#f9f7f7"/><stop offset="0.3125" stop-color="#faf8f9"/><stop offset="0.3750" stop-color="#fbfafb"/><stop offset="0.4375" stop-color="#fdfcfc"/><stop offset="0.5000" stop-color="#fefdfe"/><stop offset="0.5625" stop-color="#fefeff"/><stop offset="0.6250" stop-color="#fefeff"/><stop offset="0.6875" stop-color="#fefefe"/><stop offset="0.7500" stop-color="#fcfcfc"/><stop offset="0.8125" stop-color="#f9f9f9"/><stop offset="0.8750" stop-color="#f4f5f5"/><stop offset="0.9375" stop-color="#eeefee"/><stop offset="1.0000" stop-color="#eaebea"/></linearGradient><linearGradient id="g13" x1="0" x2="1" y1="0" y2="0"><stop offset="0.0000" stop-color="#f9f6f7"/><stop offset="0.0625" stop-color="#f9f6f6"/><stop offset="0.1250" stop-color="#f8f5f6"/><stop offset="0.1875" stop-color="#f8f6f6"/><stop offset="0.2500" stop-color="#f9f7f7"/><stop offset="0.3125" stop-color="#faf8f9"/><stop offset="0.3750" stop-color="#fbfafb"/><stop offset="0.4375" stop-color="#fdfcfc"/><stop offset="0.5000" stop-color="#fefdfe"/><stop offset="0.5625" stop-color="#fefeff"/><stop offset="0.6250" stop-color="#fffeff"/><stop offset="0.6875" stop-color="#fefefe"/><stop offset="0.7500" stop-color="#fcfcfc"/><stop offset="0.8125" stop-color="#f9f9f9"/><stop offset="0.8750" stop-color="#f4f5f5"/><stop offset="0.9375" stop-color="#eeefee"/><stop offset="1.0000" stop-color="#eaebea"/></linearGradient><linearGradient id="g14" x1="0" x2="1" y1="0" y2="0"><stop offset="0.0000" stop-color="#f9f6f7"/><stop offset="0.0625" stop-color="#f9f6f6"/><stop offset="0.1250" stop-color="#f8f5f6"/><stop offset="0.1875" stop-color="#f8f6f6"/><stop offset="0.2500" stop-color="#f9f7f7"/><stop offset="0.3125" stop-color="#faf8f9"/><stop offset="0.3750" stop-color="#fbfafb"/><stop offset="0.4375" stop-color="#fdfcfc"/><stop offset="0.5000" stop-color="#fefdfe"/><stop offset="0.5625" stop-color="#fffeff"/><stop offset="0.6250" stop-color="#fffeff"/><stop offset="0.6875" stop-color="#fefefe"/><stop offset="0.7500" stop-color="#fcfcfc"/><stop offset="0.8125" stop-color="#f9f9f9"/><stop offset="0.8750" stop-color="#f4f5f5"/><stop offset="0.9375" stop-color="#eeefee"/><stop offset="1.0000" stop-color="#eaebea"/></linearGradient><linearGradient id="g15" x1="0" x2="1" y1="0" y2="0"><stop offset="0.0000" stop-color="#f9f6f7"/><stop offset="0.0625" stop-color="#f9f6f6"/><stop offset="0.1250" stop-color="#f8f5f6"/><stop offset="0.1875" stop-color="#f8f6f6"/><stop offset="0.2500" stop-color="#f9f7f7"/><stop offset="0.3125" stop-color="#faf8f9"/><stop offset="0.3750" stop-color="#fcfafb"/><stop offset="0.4375" stop-color="#fdfcfc"/><stop offset="0.5000" stop-color="#fefdfe"/><stop offset="0.5625" stop-color="#fffeff"/><stop offset="0.6250" stop-color="#fffeff"/><stop offset="0.6875" stop-color="#fefefe"/><stop offset="0.7500" stop-color="#fcfcfc"/><stop offset="0.8125" stop-color="#f9f9f9"/><stop offset="0.8750" stop-color="#f4f5f5"/><stop offset="0.9375" stop-color="#eeefee"/><stop offset="1.0000" stop-color="#eaebea"/></linearGradient><linearGradient id="g16" x1="0" x2="1" y1="0" y2="0"><stop offset="0.0000" stop-color="#f9f6f7"/><stop offset="0.0625" stop-color="#f9f6f6"/><stop offset="0.1250" stop-color="#f8f5f6"/><stop offset="0.1875" stop-color="#f8f6f6"/><stop offset="0.2500" stop-color="#f9f7f7"/><stop offset="0.3125" stop-color="#faf8f9"/><stop offset="0.3750" stop-color="#fcfafb"/><stop offset="0.4375" stop-color="#fdfcfc"/><stop offset="0.5000" stop-color="#fefdfe"/><stop offset="0.5625" stop-color="#fffeff"/><stop offset="0.6250" stop-color="#fffeff"/><stop offset="0.6875" stop-color="#fefefe"/><stop offset="0.7500" stop-color="#fcfcfc"/><stop offset="0.8125" stop-color="#f9f9f9"/><stop offset="0.8750" stop-color="#f4f5f4"/><stop offset="0.9375" stop-color="#eeefee"/><stop offset="1.0000" stop-color="#eaebea"/></linearGradient><linearGradient id="g17" x1="0" x2="1" y1="0" y2="0"><stop offset="0.0000" stop-color="#f9f6f7"/><stop offset="0.0625" stop-color="#f9f6f6"/><stop offset="0.1250" stop-color="#f8f5f6"/><stop offset="0.1875" stop-color="#f8f6f6"/><stop offset="0.2500" stop-color="#f9f7f8"/><stop offset="0.3125" stop-color="#faf8f9"/><stop offset="0.3750" stop-color="#fcfafb"/><stop offset="0.4375" stop-color="#fdfcfc"/><stop offset="0.5000" stop-color="#fefdfe"/><stop offset="0.5625" stop-color="#fffeff"/><stop offset="0.6250" stop-color="#fffeff"/><stop offset="0.6875" stop-color="#fefefe"/><stop offset="0.7500" stop-color="#fcfcfc"/><stop offset="0.8125" stop-color="#f9f9f9"/><stop offset="0.8750" stop-color="#f4f5f4"/><stop offset="0.9375" stop-color="#eeeeee"/><stop offset="1.0000" stop-color="#eaebea"/></linearGradient><linearGradient id="g18" x1="0" x2="1" y1="0" y2="0"><stop offset="0.0000" stop-color="#f9f6f7"/><stop offset="0.0625" stop-color="#f9f6f6"/><stop offset="0.1250" stop-color="#f8f5f6"/><stop offset="0.1875" stop-color="#f8f6f6"/><stop offset="0.2500" stop-color="#f9f7f8"/><stop offset="0.3125" stop-color="#faf8f9"/><stop offset="0.3750" stop-color="#fcfafb"/><stop offset="0.4375" stop-color="#fdfcfc"/><stop offset="0.5000" stop-color="#fefdfe"/><stop offset="0.5625" stop-color="#fffeff"/><stop offset="0.6250" stop-color="#fffeff"/><stop offset="0.6875" stop-color="#fefefe"/><stop offset="0.7500" stop-color="#fcfcfc"/><stop offset="0.8125" stop-color="#f9f9f9"/><stop offset="0.8750" stop-color="#f4f5f4"/><stop offset="0.9375" stop-color="#edeeee"/><stop offset="1.0000" stop-color="#eaebea"/></linearGradient><linearGradient id="g19" x1="0" x2="1" y1="0" y2="0"><stop offset="0.0000" stop-color="#f9f6f7"/><stop offset="0.0625" stop-color="#f9f5f6"/><stop offset="0.1250" stop-color="#f8f5f6"/><stop offset="0.1875" stop-color="#f8f6f6"/><stop offset="0.2500" stop-color="#f9f7f8"/><stop offset="0.3125" stop-color="#faf8f9"/><stop offset="0.3750" stop-color="#fcfafb"/><stop offset="0.4375" stop-color="#fdfcfc"/><stop offset="0.5000" stop-color="#fefdfe"/><stop offset="0.5625" stop-color="#fffeff"/><stop offset="0.6250" stop-color="#fffeff"/><stop offset="0.6875" stop-color="#fefefe"/><stop offset="0.7500" stop-color="#fcfcfc"/><stop offset="0.8125" stop-color="#f9f9f9"/><stop offset="0.8750" stop-color="#f4f5f4"/><stop offset="0.9375" stop-color="#edeeee"/><stop offset="1.0000" stop-color="#e9eaea"/></linearGradient><linearGradient id="g20" x1="0" x2="1" y1="0" y2="0"><stop offset="0.0000" stop-color="#f9f6f7"/><stop offset="0.0625" stop-color="#f9f5f6"/><stop offset="0.1250" stop-color="#f8f5f6"/><stop offset="0.1875" stop-color="#f8f6f6"/><stop offset="0.2500" stop-color="#f9f7f8"/><stop offset="0.3125" stop-color="#faf8f9"/><stop offset="0.3750" stop-color="#fcfafb"/><stop offset="0.4375" stop-color="#fdfcfd"/><stop offset="0.5000" stop-color="#fefdfe"/><stop offset="0.5625" stop-color="#fffeff"/><stop offset="0.6250" stop-color="#fffeff"/><stop offset="0.6875" stop-color="#fefefe"/><stop offset="0.7500" stop-color="#fcfcfc"/><stop offset="0.8125" stop-color="#f8f9f9"/><stop offset="0.8750" stop-color="#f4f4f4"/><stop offset="0.9375" stop-color="#edeeee"/><stop offset="1.0000" stop-color="#e9eae9"/></linearGradient><linearGradient id="g21" x1="0" x2="1" y1="0" y2="0"><stop offset="0.0000" stop-color="#f9f6f7"/><stop offset="0.0625" stop-color="#f9f5f6"/><stop offset="0.1250" stop-color="#f8f5f6"/><stop offset="0.1875" stop-color="#f8f6f6"/><stop offset="0.2500" stop-color="#f9f7f8"/><stop offset="0.3125" stop-color="#fbf9f9"/><stop offset="0.3750" stop-color="#fcfafb"/><stop offset="0.4375" stop-color="#fdfcfd"/><stop offset="0.5000" stop-color="#fefdfe"/><stop offset="0.5625" stop-color="#fffeff"/><stop offset="0.6250" stop-color="#fffeff"/><stop offset="0.6875" stop-color="#fefefe"/><stop offset="0.7500" stop-color="#fcfcfc"/><stop offset="0.8125" stop-color="#f8f9f9"/><stop offset="0.8750" stop-color="#f4f4f4"/><stop offset="0.9375" stop-color="#edeeed"/><stop offset="1.0000" stop-color="#e9eae9"/></linearGradient><linearGradient id="g22" x1="0" x2="1" y1="0" y2="0"><stop offset="0.0000" stop-color="#f9f6f7"/><stop offset="0.0625" stop-color="#f9f5f6"/><stop offset="0.1250" stop-color="#f8f5f6"/><stop offset="0.1875" stop-color="#f8f6f6"/><stop offset="0.2500" stop-color="#f9f7f8"/><stop offset="0.3125" stop-color="#fbf9f9"/><stop offset="0.3750" stop-color="#fcfafb"/><stop offset="0.4375" stop-color="#fdfcfd"/><stop offset="0.5000" stop-color="#fefdfe"/><stop offset="0.5625" stop-color="#fffeff"/><stop offset="0.6250" stop-color="#fffeff"/><stop offset="0.6875" stop-color="#fefefe"/><stop offset="0.7500" stop-color="#fcfcfc"/><stop offset="0.8125" stop-color="#f8f9f9"/><stop offset="0.8750" stop-color="#f3f4f4"/><stop offset="0.9375" stop-color="#edeeed"/><stop offset="1.0000" stop-color="#e9eae9"/></linearGradient><linearGradient id="g23" x1="0" x2="1" y1="0" y2="0"><stop offset="0.0000" stop-color="#f9f6f7"/><stop offset="0.0625" stop-color="#f9f5f6"/><stop offset="0.1250" stop-color="#f8f5f6"/><stop offset="0.1875" stop-color="#f8f6f6"/><stop offset="0.2500" stop-color="#f9f7f8"/><stop offset="0.3125" stop-color="#fbf9f9"/><stop offset="0.3750" stop-color="#fcfafb"/><stop offset="0.4375" stop-color="#fdfcfd"/><stop offset="0.5000" stop-color="#fefdfe"/><stop offset="0.5625" stop-color="#fffeff"/><stop offset="0.6250" stop-color="#fffeff"/><stop offset="0.6875" stop-color="#fefefe"/><stop offset="0.7500" stop-color="#fcfcfc"/><stop offset="0.8125" stop-color="#f8f9f9"/><stop offset="0.8750" stop-color="#f3f4f4"/><stop offset="0.9375" stop-color="#edeeed"/><stop offset="1.0000" stop-color="#e9eae9"/></linearGradient><linearGradient id="g24" x1="0" x2="1" y1="0" y2="0"><stop offset="0.0000" stop-color="#f9f6f6"/><stop offset="0.0625" stop-color="#f9f5f6"/><stop offset="0.1250" stop-color="#f8f5f6"/><stop offset="0.1875" stop-color="#f9f6f6"/><stop offset="0.2500" stop-color="#f9f7f8"/><stop offset="0.3125" stop-color="#fbf9f9"/><stop offset="0.3750" stop-color="#fcfafb"/><stop offset="0.4375" stop-color="#fdfcfd"/><stop offset="0.5000" stop-color="#fefdfe"/><stop offset="0.5625" stop-color="#fffeff"/><stop offset="0.6250" stop-color="#fffeff"/><stop offset="0.6875" stop-color="#fefefe"/><stop offset="0.7500" stop-color="#fcfcfc"/><stop offset="0.8125" stop-color="#f8f9f9"/><stop offset="0.8750" stop-color="#f3f4f4"/><stop offset="0.9375" stop-color="#edeeed"/><stop offset="1.0000" stop-color="#e9eae9"/></linearGradient><linearGradient id="g25" x1="0" x2="1" y1="0" y2="0"><stop offset="0.0000" stop-color="#f9f6f6"/><stop offset="0.0625" stop-color="#f9f5f6"/><stop offset="0.1250" stop-color="#f8f5f6"/><stop offset="0.1875" stop-color="#f8f6f6"/><stop offset="0.2500" stop-color="#f9f7f8"/><stop offset="0.3125" stop-color="#fbf9f9"/><stop offset="0.3750" stop-color="#fcfafb"/><stop offset="0.4375" stop-color="#fdfcfd"/><stop offset="0.5000" stop-color="#fefdfe"/><stop offset="0.5625" stop-color="#fffeff"/><stop offset="0.6250" stop-color="#ffffff"/><stop offset="0.6875" stop-color="#fefefe"/><stop offset="0.7500" stop-color="#fcfcfc"/><stop offset="0.8125" stop-color="#f8f9f9"/><stop offset="0.8750" stop-color="#f3f4f4"/><stop offset="0.9375" stop-color="#edeeed"/><stop offset="1.0000" stop-color="#e9eae9"/></linearGradient><linearGradient id="g26" x1="0" x2="1" y1="0" y2="0"><stop offset="0.0000" stop-color="#f9f6f6"/><stop offset="0.0625" stop-color="#f9f5f6"/><stop offset="0.1250" stop-color="#f8f5f6"/><stop offset="0.1875" stop-color="#f8f6f6"/><stop offset="0.2500" stop-color="#f9f7f8"/><stop offset="0.3125" stop-color="#fbf9f9"/><stop offset="0.3750" stop-color="#fcfafb"/><stop offset="0.4375" stop-color="#fdfcfd"/><stop offset="0.5000" stop-color="#fefdfe"/><stop offset="0.5625" stop-color="#fffeff"/><stop offset="0.6250" stop-color="#ffffff"/><stop offset="0.6875" stop-color="#fefefe"/><stop offset="0.7500" stop-color="#fbfcfc"/><stop offset="0.8125" stop-color="#f8f9f9"/><stop offset="0.8750" stop-color="#f3f4f4"/><stop offset="0.9375" stop-color="#eceeed"/><stop offset="1.0000" stop-color="#e8eae9"/></linearGradient><linearGradient id="g27" x1="0" x2="1" y1="0" y2="0"><stop offset="0.0000" stop-color="#f9f6f6"/><stop offset="0.0625" stop-color="#f9f5f6"/><stop offset="0.1250" stop-color="#f8f5f6"/><stop offset="0.1875" stop-color="#f8f6f6"/><stop offset="0.2500" stop-color="#f9f7f8"/><stop offset="0.3125" stop-color="#fbf9f9"/><stop offset="0.3750" stop-color="#fcfafb"/><stop offset="0.4375" stop-color="#fdfcfd"/><stop offset="0.5000" stop-color="#fefdfe"/><stop offset="0.5625" stop-color="#fffeff"/><stop offset="0.6250" stop-color="#ffffff"/><stop offset="0.6875" stop-color="#fefefe"/><stop offset="0.7500" stop-color="#fbfcfc"/><stop offset="0.8125" stop-color="#f8f9f9"/><stop offset="0.8750" stop-color="#f3f4f4"/><stop offset="0.9375" stop-color="#eceded"/><stop offset="1.0000" stop-color="#e8e9e9"/></linearGradient><linearGradient id="g28" x1="0" x2="1" y1="0" y2="0"><stop offset="0.0000" stop-color="#f9f6f6"/><stop offset="0.0625" stop-color="#f8f5f6"/><stop offset="0.1250" stop-color="#f8f5f6"/><stop offset="0.1875" stop-color="#f8f6f6"/><stop offset="0.2500" stop-color="#f9f7f8"/><stop offset="0.3125" stop-color="#fbf9f9"/><stop offset="0.3750" stop-color="#fcfafb"/><stop offset="0.4375" stop-color="#fdfcfd"/><stop offset="0.5000" stop-color="#fefdfe"/><stop offset="0.5625" stop-color="#fffeff"/><stop offset="0.6250" stop-color="#ffffff"/><stop offset="0.6875" stop-color="#fdfefe"/><stop offset="0.7500" stop-color="#fbfcfc"/><stop offset="0.8125" stop-color="#f8f9f9"/><stop offset="0.8750" stop-color="#f3f4f4"/><stop offset="0.9375" stop-color="#eceded"/><stop offset="1.0000" stop-color="#e8e9e9"/></linearGradient><linearGradient id="g29" x1="0" x2="1" y1="0" y2="0"><stop offset="0.0000" stop-color="#f9f5f6"/><stop offset="0.0625" stop-color="#f8f5f6"/><stop offset="0.1250" stop-color="#f8f5f6"/><stop offset="0.1875" stop-color="#f8f6f6"/><stop offset="0.2500" stop-color="#f9f7f8"/><stop offset="0.3125" stop-color="#fbf9f9"/><stop offset="0.3750" stop-color="#fcfafb"/><stop offset="0.4375" stop-color="#fdfcfd"/><stop offset="0.5000" stop-color="#fefefe"/><stop offset="0.5625" stop-color="#fffeff"/><stop offset="0.6250" stop-color="#feffff"/><stop offset="0.6875" stop-color="#fdfefe"/><stop offset="0.7500" stop-color="#fbfcfc"/><stop offset="0.8125" stop-color="#f8f9f9"/><stop offset="0.8750" stop-color="#f3f4f4"/><stop offset="0.9375" stop-color="#eceded"/><stop offset="1.0000" stop-color="#e8e9e8"/></linearGradient><linearGradient id="g30" x1="0" x2="1" y1="0" y2="0"><stop offset="0.0000" stop-color="#f9f5f6"/><stop offset="0.0625" stop-color="#f8f5f6"/><stop offset="0.1250" stop-color="#f8f5f6"/><stop offset="0.1875" stop-color="#f8f6f6"/><stop offset="0.2500" stop-color="#f9f7f8"/><stop offset="0.3125" stop-color="#fbf9f9"/><stop offset="0.3750" stop-color="#fcfafb"/><stop offset="0.4375" stop-color="#fdfcfd"/><stop offset="0.5000" stop-color="#fefefe"/><stop offset="0.5625" stop-color="#fffeff"/><stop offset="0.6250" stop-color="#feffff"/><stop offset="0.6875" stop-color="#fdfefe"/><stop offset="0.7500" stop-color="#fbfcfc"/><stop offset="0.8125" stop-color="#f8f9f9"/><stop offset="0.8750" stop-color="#f2f4f4"/><stop offset="0.9375" stop-color="#eceded"/><stop offset="1.0000" stop-color="#e8e9e8"/></linearGradient><linearGradient id="g31" x1="0" x2="1" y1="0" y2="0"><stop offset="0.0000" stop-color="#f9f5f6"/><stop offset="0.0625" stop-color="#f8f5f6"/><stop offset="0.1250" stop-color="#f8f5f6"/><stop offset="0.1875" stop-color="#f8f6f6"/><stop offset="0.2500" stop-color="#f9f7f8"/><stop offset="0.3125" stop-color="#fbf9f9"/><stop offset="0.3750" stop-color="#fcfbfb"/><stop offset="0.4375" stop-color="#fdfcfd"/><stop offset="0.5000" stop-color="#fefefe"/><stop offset="0.5625" stop-color="#fffeff"/><stop offset="0.6250" stop-color="#feffff"/><stop offset="0.6875" stop-color="#fdfefe"/><stop offset="0.7500" stop-color="#fbfcfc"/><stop offset="0.8125" stop-color="#f7f8f9"/><stop offset="0.8750" stop-color="#f2f4f4"/><stop offset="0.9375" stop-color="#ebedec"/><stop offset="1.0000" stop-color="#e7e9e8"/></linearGradient><linearGradient id="g32" x1="0" x2="1" y1="0" y2="0"><stop offset="0.0000" stop-color="#f9f5f6"/><stop offset="0.0625" stop-color="#f8f5f6"/><stop offset="0.1250" stop-color="#f8f5f6"/><stop offset="0.1875" stop-color="#f8f6f6"/><stop offset="0.2500" stop-color="#f9f7f8"/><stop offset="0.3125" stop-color="#fbf9f9"/><stop offset="0.3750" stop-color="#fcfbfb"/><stop offset="0.4375" stop-color="#fdfcfd"/><stop offset="0.5000" stop-color="#fefefe"/><stop offset="0.5625" stop-color="#fffeff"/><stop offset="0.6250" stop-color="#feffff"/><stop offset="0.6875" stop-color="#fdfefe"/><stop offset="0.7500" stop-color="#fbfcfc"/><stop offset="0.8125" stop-color="#f7f8f9"/><stop offset="0.8750" stop-color="#f2f4f3"/><stop offset="0.9375" stop-color="#ebedec"/><stop offset="1.0000" stop-color="#e7e9e8"/></linearGradient><linearGradient id="g33" x1="0" x2="1" y1="0" y2="0"><stop offset="0.0000" stop-color="#f9f5f6"/><stop offset="0.0625" stop-color="#f8f5f6"/><stop offset="0.1250" stop-color="#f8f5f6"/><stop offset="0.1875" stop-color="#f8f6f6"/><stop offset="0.2500" stop-color="#f9f7f8"/><stop offset="0.3125" stop-color="#faf9f9"/><stop offset="0.3750" stop-color="#fcfbfb"/><stop offset="0.4375" stop-color="#fdfcfd"/><stop offset="0.5000" stop-color="#fefefe"/><stop offset="0.5625" stop-color="#fefeff"/><stop offset="0.6250" stop-color="#feffff"/><stop offset="0.6875" stop-color="#fdfefe"/><stop offset="0.7500" stop-color="#fbfcfc"/><stop offset="0.8125" stop-color="#f7f8f9"/><stop offset="0.8750" stop-color="#f2f3f3"/><stop offset="0.9375" stop-color="#ebedec"/><stop offset="1.0000" stop-color="#e7e9e8"/></linearGradient><linearGradient id="g34" x1="0" x2="1" y1="0" y2="0"><stop offset="0.0000" stop-color="#f9f5f6"/><stop offset="0.0625" stop-color="#f8f5f6"/><stop offset="0.1250" stop-color="#f8f5f6"/><stop offset="0.1875" stop-color="#f8f6f6"/><stop offset="0.2500" stop-color="#f9f7f8"/><stop offset="0.3125" stop-color="#faf9f9"/><stop offset="0.3750" stop-color="#fcfbfb"/><stop offset="0.4375" stop-color="#fdfcfd"/><stop offset="0.5000" stop-color="#fefefe"/><stop offset="0.5625" stop-color="#fefeff"/><stop offset="0.6250" stop-color="#feffff"/><stop offset="0.6875" stop-color="#fdfefe"/><stop offset="0.7500" stop-color="#fbfcfc"/><stop offset="0.8125" stop-color="#f7f8f8"/><stop offset="0.8750" stop-color="#f2f3f3"/><stop offset="0.9375" stop-color="#ebedec"/><stop offset="1.0000" stop-color="#e7e8e8"/></linearGradient><linearGradient id="g35" x1="0" x2="1" y1="0" y2="0"><stop offset="0.0000" stop-color="#f8f5f6"/><stop offset="0.0625" stop-color="#f8f5f6"/><stop offset="0.1250" stop-color="#f8f5f6"/><stop offset="0.1875" stop-color="#f8f6f6"/><stop offset="0.2500" stop-color="#f9f7f8"/><stop offset="0.3125" stop-color="#faf9f9"/><stop offset="0.3750" stop-color="#fcfbfb"/><stop offset="0.4375" stop-color="#fdfcfd"/><stop offset="0.5000" stop-color="#fefefe"/><stop offset="0.5625" stop-color="#fefeff"/><stop offset="0.6250" stop-color="#feffff"/><stop offset="0.6875" stop-color="#fdfefe"/><stop offset="0.7500" stop-color="#fbfcfc"/><stop offset="0.8125" stop-color="#f7f8f8"/><stop offset="0.8750" stop-color="#f2f3f3"/><stop offset="0.9375" stop-color="#ebecec"/><stop offset="1.0000" stop-color="#e6e8e8"/></linearGradient><linearGradient id="g36" x1="0" x2="1" y1="0" y2="0"><stop offset="0.0000" stop-color="#f8f5f6"/><stop offset="0.0625" stop-color="#f8f5f5"/><stop offset="0.1250" stop-color="#f8f5f6"/><stop offset="0.1875" stop-color="#f8f6f6"/><stop offset="0.2500" stop-color="#f9f7f8"/><stop offset="0.3125" stop-color="#faf9f9"/><stop offset="0.3750" stop-color="#fcfbfb"/><stop offset="0.4375" stop-color="#fdfcfd"/><stop offset="0.5000" stop-color="#fefefe"/><stop offset="0.5625" stop-color="#fefeff"/><stop offset="0.6250" stop-color="#fefeff"/><stop offset="0.6875" stop-color="#fdfefe"/><stop offset="0.7500" stop-color="#fafcfc"/><stop offset="0.8125" stop-color="#f7f8f8"/><stop offset="0.8750" stop-color="#f1f3f3"/><stop offset="0.9375" stop-color="#eaecec"/><stop offset="1.0000" stop-color="#e6e8e7"/></linearGradient><linearGradient id="g37" x1="0" x2="1" y1="0" y2="0"><stop offset="0.0000" stop-color="#f8f5f6"/><stop offset="0.0625" stop-color="#f8f5f5"/><stop offset="0.1250" stop-color="#f8f5f6"/><stop offset="0.1875" stop-color="#f8f6f6"/><stop offset="0.2500" stop-color="#f9f7f8"/><stop offset="0.3125" stop-color="#faf9f9"/><stop offset="0.3750" stop-color="#fcfbfb"/><stop offset="0.4375" stop-color="#fdfcfd"/><stop offset="0.5000" stop-color="#fefefe"/><stop offset="0.5625" stop-color="#fefeff"/><stop offset="0.6250" stop-color="#fefeff"/><stop offset="0.6875" stop-color="#fdfefe"/><stop offset="0.7500" stop-color="#fafbfc"/><stop offset="0.8125" stop-color="#f7f8f8"/><stop offset="0.8750" stop-color="#f1f3f3"/><stop offset="0.9375" stop-color="#eaecec"/><stop offset="1.0000" stop-color="#e6e8e7"/></linearGradient><linearGradient id="g38" x1="0" x2="1" y1="0" y2="0"><stop offset="0.0000" stop-color="#f8f5f6"/><stop offset="0.0625" stop-color="#f8f5f5"/><stop offset="0.1250" stop-color="#f7f5f5"/><stop offset="0.1875" stop-color="#f8f6f6"/><stop offset="0.2500" stop-color="#f9f7f8"/><stop offset="0.3125" stop-color="#faf9f9"/><stop offset="0.3750" stop-color="#fcfbfb"/><stop offset="0.4375" stop-color="#fdfcfd"/><stop offset="0.5000" stop-color="#fefefe"/><stop offset="0.5625" stop-color="#fefeff"/><stop offset="0.6250" stop-color="#fefeff"/><stop offset="0.6875" stop-color="#fcfefe"/><stop offset="0.7500" stop-color="#fafbfc"/><stop offset="0.8125" stop-color="#f6f8f8"/><stop offset="0.8750" stop-color="#f1f3f3"/><stop offset="0.9375" stop-color="#eaecec"/><stop offset="1.0000" stop-color="#e6e8e7"/></linearGradient><linearGradient id="g39" x1="0" x2="1" y1="0" y2="0"><stop offset="0.0000" stop-color="#f8f5f6"/><stop offset="0.0625" stop-color="#f8f5f5"/><stop offset="0.1250" stop-color="#f7f5f5"/><stop offset="0.1875" stop-color="#f8f6f6"/><stop offset="0.2500" stop-color="#f9f7f8"/><stop offset="0.3125" stop-color="#faf9f9"/><stop offset="0.3750" stop-color="#fbfbfb"/><stop offset="0.4375" stop-color="#fdfcfd"/><stop offset="0.5000" stop-color="#fefefe"/><stop offset="0.5625" stop-color="#fefeff"/><stop offset="0.6250" stop-color="#fefeff"/><stop offset="0.6875" stop-color="#fcfdfe"/><stop offset="0.7500" stop-color="#fafbfc"/><stop offset="0.8125" stop-color="#f6f8f8"/><stop offset="0.8750" stop-color="#f1f3f3"/><stop offset="0.9375" stop-color="#eaeceb"/><stop offset="1.0000" stop-color="#e5e8e7"/></linearGradient><linearGradient id="g40" x1="0" x2="1" y1="0" y2="0"><stop offset="0.0000" stop-color="#f8f5f6"/><stop offset="0.0625" stop-color="#f7f5f5"/><stop offset="0.1250" stop-color="#f7f5f5"/><stop offset="0.1875" stop-color="#f8f6f6"/><stop offset="0.2500" stop-color="#f9f7f8"/><stop offset="0.3125" stop-color="#faf9f9"/><stop offset="0.3750" stop-color="#fbfbfb"/><stop offset="0.4375" stop-color="#fdfcfd"/><stop offset="0.5000" stop-color="#fefefe"/><stop offset="0.5625" stop-color="#fefeff"/><stop offset="0.6250" stop-color="#fefeff"/><stop offset="0.6875" stop-color="#fcfdfe"/><stop offset="0.7500" stop-color="#fafbfc"/><stop offset="0.8125" stop-color="#f6f8f8"/><stop offset="0.8750" stop-color="#f1f3f3"/><stop offset="0.9375" stop-color="#e9eceb"/><stop offset="1.0000" stop-color="#e5e7e7"/></linearGradient><linearGradient id="g41" x1="0" x2="1" y1="0" y2="0"><stop offset="0.0000" stop-color="#f8f5f6"/><stop offset="0.0625" stop-color="#f7f5f5"/><stop offset="0.1250" stop-color="#f7f5f5"/><stop offset="0.1875" stop-color="#f8f6f6"/><stop offset="0.2500" stop-color="#f9f7f8"/><stop offset="0.3125" stop-color="#faf9f9"/><stop offset="0.3750" stop-color="#fbfbfb"/><stop offset="0.4375" stop-color="#fdfcfd"/><stop offset="0.5000" stop-color="#fdfefe"/><stop offset="0.5625" stop-color="#fefeff"/><stop offset="0.6250" stop-color="#fdfeff"/><stop offset="0.6875" stop-color="#fcfdfe"/><stop offset="0.7500" stop-color="#fafbfc"/><stop offset="0.8125" stop-color="#f6f8f8"/><stop offset="0.8750" stop-color="#f0f2f2"/><stop offset="0.9375" stop-color="#e9ebeb"/><stop offset="1.0000" stop-color="#e5e7e7"/></linearGradient><linearGradient id="g42" x1="0" x2="1" y1="0" y2="0"><stop offset="0.0000" stop-color="#f8f5f5"/><stop offset="0.0625" stop-color="#f7f5f5"/><stop offset="0.1250" stop-color="#f7f5f5"/><stop offset="0.1875" stop-color="#f8f6f6"/><stop offset="0.2500" stop-color="#f9f7f8"/><stop offset="0.3125" stop-color="#faf9f9"/><stop offset="0.3750" stop-color="#fbfbfb"/><stop offset="0.4375" stop-color="#fcfcfd"/><stop offset="0.5000" stop-color="#fdfefe"/><stop offset="0.5625" stop-color="#fefeff"/><stop offset="0.6250" stop-color="#fdfeff"/><stop offset="0.6875" stop-color="#fcfdfe"/><stop offset="0.7500" stop-color="#f9fbfc"/><stop offset="0.8125" stop-color="#f6f8f8"/><stop offset="0.8750" stop-color="#f0f2f2"/><stop offset="0.9375" stop-color="#e9ebeb"/><stop offset="1.0000" stop-color="#e5e7e6"/></linearGradient><linearGradient id="g43" x1="0" x2="1" y1="0" y2="0"><stop offset="0.0000" stop-color="#f8f5f5"/><stop offset="0.0625" stop-color="#f7f5f5"/><stop offset="0.1250" stop-color="#f7f5f5"/><stop offset="0.1875" stop-color="#f7f6f6"/><stop offset="0.2500" stop-color="#f9f7f8"/><stop offset="0.3125" stop-color="#faf9f9"/><stop offset="0.3750" stop-color="#fbfbfb"/><stop offset="0.4375" stop-color="#fcfcfd"/><stop offset="0.5000" stop-color="#fdfefe"/><stop offset="0.5625" stop-color="#fefeff"/><stop offset="0.6250" stop-color="#fdfeff"/><stop offset="0.6875" stop-color="#fcfdfe"/><stop offset="0.7500" stop-color="#f9fbfb"/><stop offset="0.8125" stop-color="#f5f7f8"/><stop offset="0.8750" stop-color="#f0f2f2"/><stop offset="0.9375" stop-color="#e9ebeb"/><stop offset="1.0000" stop-color="#e4e7e6"/></linearGradient><linearGradient id="g44" x1="0" x2="1" y1="0" y2="0"><stop offset="0.0000" stop-color="#f7f5f5"/><stop offset="0.0625" stop-color="#f7f5f5"/><stop offset="0.1250" stop-color="#f7f5f5"/><stop offset="0.1875" stop-color="#f7f6f6"/><stop offset="0.2500" stop-color="#f8f7f8"/><stop offset="0.3125" stop-color="#faf9f9"/><stop offset="0.3750" stop-color="#fbfbfb"/><stop offset="0.4375" stop-color="#fcfcfd"/><stop offset="0.5000" stop-color="#fdfefe"/><stop offset="0.5625" stop-color="#fdfeff"/><stop offset="0.6250" stop-color="#fdfeff"/><stop offset="0.6875" stop-color="#fcfdfe"/><stop offset="0.7500" stop-color="#f9fbfb"/><stop offset="0.8125" stop-color="#f5f7f8"/><stop offset="0.8750" stop-color="#f0f2f2"/><stop offset="0.9375" stop-color="#e8ebea"/><stop offset="1.0000" stop-color="#e4e7e6"/></linearGradient><linearGradient id="g45" x1="0" x2="1" y1="0" y2="0"><stop offset="0.0000" stop-color="#f7f5f5"/><stop offset="0.0625" stop-color="#f7f5f5"/><stop offset="0.1250" stop-color="#f7f5f5"/><stop offset="0.1875" stop-color="#f7f6f6"/><stop offset="0.2500" stop-color="#f8f7f8"/><stop offset="0.3125" stop-color="#faf9f9"/><stop offset="0.3750" stop-color="#fbfbfb"/><stop offset="0.4375" stop-color="#fcfcfd"/><stop offset="0.5000" stop-color="#fdfefe"/><stop offset="0.5625" stop-color="#fdfeff"/><stop offset="0.6250" stop-color="#fdfeff"/><stop offset="0.6875" stop-color="#fbfdfe"/><stop offset="0.7500" stop-color="#f9fbfb"/><stop offset="0.8125" stop-color="#f5f7f7"/><stop offset="0.8750" stop-color="#eff2f2"/><stop offset="0.9375" stop-color="#e8ebea"/><stop offset="1.0000" stop-color="#e4e6e6"/></linearGradient><linearGradient id="g46" x1="0" x2="1" y1="0" y2="0"><stop offset="0.0000" stop-color="#f7f5f5"/><stop offset="0.0625" stop-color="#f7f5f5"/><stop offset="0.1250" stop-color="#f7f5f5"/><stop offset="0.1875" stop-color="#f7f6f6"/><stop offset="0.2500" stop-color="#f8f7f8"/><stop offset="0.3125" stop-color="#f9f9f9"/><stop offset="0.3750" stop-color="#fbfbfb"/><stop offset="0.4375" stop-color="#fcfcfd"/><stop offset="0.5000" stop-color="#fdfefe"/><stop offset="0.5625" stop-color="#fdfeff"/><stop offset="0.6250" stop-color="#fdfeff"/><stop offset="0.6875" stop-color="#fbfdfe"/><stop offset="0.7500" stop-color="#f9fbfb"/><stop offset="0.8125" stop-color="#f5f7f7"/><stop offset="0.8750" stop-color="#eff2f2"/><stop offset="0.9375" stop-color="#e8ebea"/><stop offset="1.0000" stop-color="#e3e6e6"/></linearGradient><linearGradient id="g47" x1="0" x2="1" y1="0" y2="0"><stop offset="0.0000" stop-color="#f7f5f5"/><stop offset="0.0625" stop-color="#f7f5f5"/><stop offset="0.1250" stop-color="#f6f5f5"/><stop offset="0.1875" stop-color="#f7f6f6"/><stop offset="0.2500" stop-color="#f8f7f8"/><stop offset="0.3125" stop-color="#f9f9f9"/><stop offset="0.3750" stop-color="#fbfbfb"/><stop offset="0.4375" stop-color="#fcfcfd"/><stop offset="0.5000" stop-color="#fdfefe"/><stop offset="0.5625" stop-color="#fdfeff"/><stop offset="0.6250" stop-color="#fdfeff"/><stop offset="0.6875" stop-color="#fbfdfe"/><stop offset="0.7500" stop-color="#f9fbfb"/><stop offset="0.8125" stop-color="#f5f7f7"/><stop offset="0.8750" stop-color="#eff2f2"/><stop offset="0.9375" stop-color="#e8eaea"/><stop offset="1.0000" stop-color="#e3e6e5"/></linearGradient><linearGradient id="g48" x1="0" x2="1" y1="0" y2="0"><stop offset="0.0000" stop-color="#f7f5f5"/><stop offset="0.0625" stop-color="#f6f5f5"/><stop offset="0.1250" stop-color="#f6f5f5"/><stop offset="0.1875" stop-color="#f7f6f6"/><stop offset="0.2500" stop-color="#f8f7f8"/><stop offset="0.3125" stop-color="#f9f9f9"/><stop offset="0.3750" stop-color="#fbfbfb"/><stop offset="0.4375" stop-color="#fcfcfd"/><stop offset="0.5000" stop-color="#fdfefe"/><stop offset="0.5625" stop-color="#fdfeff"/><stop offset="0.6250" stop-color="#fcfeff"/><stop offset="0.6875" stop-color="#fbfdfd"/><stop offset="0.7500" stop-color="#f8fbfb"/><stop offset="0.8125" stop-color="#f4f7f7"/><stop offset="0.8750" stop-color="#eff1f1"/><stop offset="0.9375" stop-color="#e7eaea"/><stop offset="1.0000" stop-color="#e3e6e5"/></linearGradient><linearGradient id="g49" x1="0" x2="1" y1="0" y2="0"><stop offset="0.0000" stop-color="#f7f5f5"/><stop offset="0.0625" stop-color="#f6f4f5"/><stop offset="0.1250" stop-color="#f6f5f5"/><stop offset="0.1875" stop-color="#f7f6f6"/><stop offset="0.2500" stop-color="#f8f7f8"/><stop offset="0.3125" stop-color="#f9f9f9"/><stop offset="0.3750" stop-color="#fafbfb"/><stop offset="0.4375" stop-color="#fcfcfd"/><stop offset="0.5000" stop-color="#fcfefe"/><stop offset="0.5625" stop-color="#fdfeff"/><stop offset="0.6250" stop-color="#fcfeff"/><stop offset="0.6875" stop-color="#fbfdfd"/><stop offset="0.7500" stop-color="#f8fafb"/><stop offset="0.8125" stop-color="#f4f7f7"/><stop offset="0.8750" stop-color="#eef1f1"/><stop offset="0.9375" stop-color="#e7eae9"/><stop offset="1.0000" stop-color="#e3e5e5"/></linearGradient><linearGradient id="g50" x1="0" x2="1" y1="0" y2="0"><stop offset="0.0000" stop-color="#f6f5f5"/><stop offset="0.0625" stop-color="#f6f4f5"/><stop offset="0.1250" stop-color="#f6f5f5"/><stop offset="0.1875" stop-color="#f7f6f6"/><stop offset="0.2500" stop-color="#f8f7f7"/><stop offset="0.3125" stop-color="#f9f9f9"/><stop offset="0.3750" stop-color="#fafbfb"/><stop offset="0.4375" stop-color="#fcfcfd"/><stop offset="0.5000" stop-color="#fcfefe"/><stop offset="0.5625" stop-color="#fdfeff"/><stop offset="0.6250" stop-color="#fcfeff"/><stop offset="0.6875" stop-color="#fbfdfd"/><stop offset="0.7500" stop-color="#f8fafb"/><stop offset="0.8125" stop-color="#f4f7f7"/><stop offset="0.8750" stop-color="#eef1f1"/><stop offset="0.9375" stop-color="#e7eae9"/><stop offset="1.0000" stop-color="#e2e5e5"/></linearGradient><linearGradient id="g51" x1="0" x2="1" y1="0" y2="0"><stop offset="0.0000" stop-color="#f6f5f5"/><stop offset="0.0625" stop-color="#f6f4f5"/><stop offset="0.1250" stop-color="#f6f5f5"/><stop offset="0.1875" stop-color="#f7f6f6"/><stop offset="0.2500" stop-color="#f8f7f7"/><stop offset="0.3125" stop-color="#f9f9f9"/><stop offset="0.3750" stop-color="#fafbfb"/><stop offset="0.4375" stop-color="#fbfcfd"/><stop offset="0.5000" stop-color="#fcfdfe"/><stop offset="0.5625" stop-color="#fcfeff"/><stop offset="0.6250" stop-color="#fcfefe"/><stop offset="0.6875" stop-color="#fafdfd"/><stop offset="0.7500" stop-color="#f8fafb"/><stop offset="0.8125" stop-color="#f4f6f7"/><stop offset="0.8750" stop-color="#eef1f1"/><stop offset="0.9375" stop-color="#e6e9e9"/><stop offset="1.0000" stop-color="#e2e5e4"/></linearGradient><linearGradient id="g52" x1="0" x2="1" y1="0" y2="0"><stop offset="0.0000" stop-color="#f6f4f5"/><stop offset="0.0625" stop-color="#f6f4f5"/><stop offset="0.1250" stop-color="#f6f5f5"/><stop offset="0.1875" stop-color="#f6f6f6"/><stop offset="0.2500" stop-color="#f7f7f7"/><stop offset="0.3125" stop-color="#f9f9f9"/><stop offset="0.3750" stop-color="#fafbfb"/><stop offset="0.4375" stop-color="#fbfcfd"/><stop offset="0.5000" stop-color="#fcfdfe"/><stop offset="0.5625" stop-color="#fcfeff"/><stop offset="0.6250" stop-color="#fcfefe"/><stop offset="0.6875" stop-color="#fafdfd"/><stop offset="0.7500" stop-color="#f7fafa"/><stop offset="0.8125" stop-color="#f3f6f6"/><stop offset="0.8750" stop-color="#eef1f1"/><stop offset="0.9375" stop-color="#e6e9e9"/><stop offset="1.0000" stop-color="#e2e5e4"/></linearGradient><linearGradient id="g53" x1="0" x2="1" y1="0" y2="0"><stop offset="0.0000" stop-color="#f6f4f5"/><stop offset="0.0625" stop-color="#f6f4f4"/><stop offset="0.1250" stop-color="#f6f5f5"/><stop offset="0.1875" stop-color="#f6f6f6"/><stop offset="0.2500" stop-color="#f7f7f7"/><stop offset="0.3125" stop-color="#f9f9f9"/><stop offset="0.3750" stop-color="#fafbfb"/><stop offset="0.4375" stop-color="#fbfcfd"/><stop offset="0.5000" stop-color="#fcfdfe"/><stop offset="0.5625" stop-color="#fcfefe"/><stop offset="0.6250" stop-color="#fcfefe"/><stop offset="0.6875" stop-color="#fafcfd"/><stop offset="0.7500" stop-color="#f7fafa"/><stop offset="0.8125" stop-color="#f3f6f6"/><stop offset="0.8750" stop-color="#edf0f0"/><stop offset="0.9375" stop-color="#e6e9e9"/><stop offset="1.0000" stop-color="#e1e4e4"/></linearGradient><linearGradient id="g54" x1="0" x2="1" y1="0" y2="0"><stop offset="0.0000" stop-color="#f6f4f5"/><stop offset="0.0625" stop-color="#f5f4f4"/><stop offset="0.1250" stop-color="#f5f5f5"/><stop offset="0.1875" stop-color="#f6f6f6"/><stop offset="0.2500" stop-color="#f7f7f7"/><stop offset="0.3125" stop-color="#f8f9f9"/><stop offset="0.3750" stop-color="#fafbfb"/><stop offset="0.4375" stop-color="#fbfcfd"/><stop offset="0.5000" stop-color="#fcfdfe"/><stop offset="0.5625" stop-color="#fcfefe"/><stop offset="0.6250" stop-color="#fbfefe"/><stop offset="0.6875" stop-color="#fafcfd"/><stop offset="0.7500" stop-color="#f7fafa"/><stop offset="0.8125" stop-color="#f3f6f6"/><stop offset="0.8750" stop-color="#edf0f0"/><stop offset="0.9375" stop-color="#e5e9e8"/><stop offset="1.0000" stop-color="#e1e4e4"/></linearGradient><linearGradient id="g55" x1="0" x2="1" y1="0" y2="0"><stop offset="0.0000" stop-color="#f6f4f4"/><stop offset="0.0625" stop-color="#f5f4f4"/><stop offset="0.1250" stop-color="#f5f5f5"/><stop offset="0.1875" stop-color="#f6f6f6"/><stop offset="0.2500" stop-color="#f7f7f7"/><stop offset="0.3125" stop-color="#f8f9f9"/><stop offset="0.3750" stop-color="#fafbfb"/><stop offset="0.4375" stop-color="#fbfcfc"/><stop offset="0.5000" stop-color="#fcfdfe"/><stop offset="0.5625" stop-color="#fcfefe"/><stop offset="0.6250" stop-color="#fbfefe"/><stop offset="0.6875" stop-color="#fafcfd"/><stop offset="0.7500" stop-color="#f7fafa"/><stop offset="0.8125" stop-color="#f3f6f6"/><stop offset="0.8750" stop-color="#edf0f0"/><stop offset="0.9375" stop-color="#e5e9e8"/><stop offset="1.0000" stop-color="#e0e4e3"/></linearGradient><linearGradient id="g56" x1="0" x2="1" y1="0" y2="0"><stop offset="0.0000" stop-color="#f5f4f4"/><stop offset="0.0625" stop-color="#f5f4f4"/><stop offset="0.1250" stop-color="#f5f5f5"/><stop offset="0.1875" stop-color="#f6f6f6"/><stop offset="0.2500" stop-color="#f7f7f7"/><stop offset="0.3125" stop-color="#f8f9f9"/><stop offset="0.3750" stop-color="#f9fbfb"/><stop offset="0.4375" stop-color="#fbfcfc"/><stop offset="0.5000" stop-color="#fbfdfe"/><stop offset="0.5625" stop-color="#fcfefe"/><stop offset="0.6250" stop-color="#fbfdfe"/><stop offset="0.6875" stop-color="#f9fcfd"/><stop offset="0.7500" stop-color="#f6fafa"/><stop offset="0.8125" stop-color="#f2f6f6"/><stop offset="0.8750" stop-color="#ecf0f0"/><stop offset="0.9375" stop-color="#e5e8e8"/><stop offset="1.0000" stop-color="#e0e4e3"/></linearGradient><linearGradient id="g57" x1="0" x2="1" y1="0" y2="0"><stop offset="0.0000" stop-color="#f5f4f4"/><stop offset="0.0625" stop-color="#f5f4f4"/><stop offset="0.1250" stop-color="#f5f4f4"/><stop offset="0.1875" stop-color="#f6f6f6"/><stop offset="0.2500" stop-color="#f7f7f7"/><stop offset="0.3125" stop-color="#f8f9f9"/><stop offset="0.3750" stop-color="#f9fbfb"/><stop offset="0.4375" stop-color="#fafcfc"/><stop offset="0.5000" stop-color="#fbfdfe"/><stop offset="0.5625" stop-color="#fbfefe"/><stop offset="0.6250" stop-color="#fbfdfe"/><stop offset="0.6875" stop-color="#f9fcfc"/><stop offset="0.7500" stop-color="#f6f9fa"/><stop offset="0.8125" stop-color="#f2f5f5"/><stop offset="0.8750" stop-color="#ecf0ef"/><stop offset="0.9375" stop-color="#e4e8e7"/><stop offset="1.0000" stop-color="#e0e3e3"/></linearGradient><linearGradient id="g58" x1="0" x2="1" y1="0" y2="0"><stop offset="0.0000" stop-color="#f5f4f4"/><stop offset="0.0625" stop-color="#f5f4f4"/><stop offset="0.1250" stop-color="#f5f4f4"/><stop offset="0.1875" stop-color="#f5f6f5"/><stop offset="0.2500" stop-color="#f6f7f7"/><stop offset="0.3125" stop-color="#f8f9f9"/><stop offset="0.3750" stop-color="#f9fafb"/><stop offset="0.4375" stop-color="#fafcfc"/><stop offset="0.5000" stop-color="#fbfdfd"/><stop offset="0.5625" stop-color="#fbfefe"/><stop offset="0.6250" stop-color="#fbfdfe"/><stop offset="0.6875" stop-color="#f9fcfc"/><stop offset="0.7500" stop-color="#f6f9fa"/><stop offset="0.8125" stop-color="#f2f5f5"/><stop offset="0.8750" stop-color="#ecefef"/><stop offset="0.9375" stop-color="#e4e8e7"/><stop offset="1.0000" stop-color="#dfe3e2"/></linearGradient><linearGradient id="g59" x1="0" x2="1" y1="0" y2="0"><stop offset="0.0000" stop-color="#f5f4f4"/><stop offset="0.0625" stop-color="#f4f4f4"/><stop offset="0.1250" stop-color="#f5f4f4"/><stop offset="0.1875" stop-color="#f5f5f5"/><stop offset="0.2500" stop-color="#f6f7f7"/><stop offset="0.3125" stop-color="#f8f9f9"/><stop offset="0.3750" stop-color="#f9fafb"/><stop offset="0.4375" stop-color="#fafcfc"/><stop offset="0.5000" stop-color="#fbfdfd"/><stop offset="0.5625" stop-color="#fbfefe"/><stop offset="0.6250" stop-color="#fafdfe"/><stop offset="0.6875" stop-color="#f9fcfc"/><stop offset="0.7500" stop-color="#f6f9f9"/><stop offset="0.8125" stop-color="#f1f5f5"/><stop offset="0.8750" stop-color="#ebefef"/><stop offset="0.9375" stop-color="#e4e7e7"/><stop offset="1.0000" stop-color="#dfe3e2"/></linearGradient><linearGradient id="g60" x1="0" x2="1" y1="0" y2="0"><stop offset="0.0000" stop-color="#f5f4f4"/><stop offset="0.0625" stop-color="#f4f4f4"/><stop offset="0.1250" stop-color="#f4f4f4"/><stop offset="0.1875" stop-color="#f5f5f5"/><stop offset="0.2500" stop-color="#f6f7f7"/><stop offset="0.3125" stop-color="#f7f9f9"/><stop offset="0.3750" stop-color="#f9fafa"/><stop offset="0.4375" stop-color="#fafcfc"/><stop offset="0.5000" stop-color="#fbfdfd"/><stop offset="0.5625" stop-color="#fbfdfe"/><stop offset="0.6250" stop-color="#fafdfd"/><stop offset="0.6875" stop-color="#f8fcfc"/><stop offset="0.7500" stop-color="#f5f9f9"/><stop offset="0.8125" stop-color="#f1f5f5"/><stop offset="0.8750" stop-color="#ebefef"/><stop offset="0.9375" stop-color="#e3e7e7"/><stop offset="1.0000" stop-color="#dfe2e2"/></linearGradient><linearGradient id="g61" x1="0" x2="1" y1="0" y2="0"><stop offset="0.0000" stop-color="#f4f4f4"/><stop offset="0.0625" stop-color="#f4f4f4"/><stop offset="0.1250" stop-color="#f4f4f4"/><stop offset="0.1875" stop-color="#f5f5f5"/><stop offset="0.2500" stop-color="#f6f7f7"/><stop offset="0.3125" stop-color="#f7f9f9"/><stop offset="0.3750" stop-color="#f9fafa"/><stop offset="0.4375" stop-color="#fafcfc"/><stop offset="0.5000" stop-color="#fafdfd"/><stop offset="0.5625" stop-color="#fbfdfe"/><stop offset="0.6250" stop-color="#fafdfd"/><stop offset="0.6875" stop-color="#f8fbfc"/><stop offset="0.7500" stop-color="#f5f9f9"/><stop offset="0.8125" stop-color="#f1f5f5"/><stop offset="0.8750" stop-color="#ebefee"/><stop offset="0.9375" stop-color="#e3e7e6"/><stop offset="1.0000" stop-color="#dee2e1"/></linearGradient><linearGradient id="g62" x1="0" x2="1" y1="0" y2="0"><stop offset="0.0000" stop-color="#f4f4f4"/><stop offset="0.0625" stop-color="#f4f4f4"/><stop offset="0.1250" stop-color="#f4f4f4"/><stop offset="0.1875" stop-color="#f5f5f5"/><stop offset="0.2500" stop-color="#f6f7f7"/><stop offset="0.3125" stop-color="#f7f9f8"/><stop offset="0.3750" stop-color="#f8fafa"/><stop offset="0.4375" stop-color="#fafcfc"/><stop offset="0.5000" stop-color="#fafdfd"/><stop offset="0.5625" stop-color="#fafdfd"/><stop offset="0.6250" stop-color="#fafdfd"/><stop offset="0.6875" stop-color="#f8fbfc"/><stop offset="0.7500" stop-color="#f5f9f9"/><stop offset="0.8125" stop-color="#f0f4f4"/><stop offset="0.8750" stop-color="#eaeeee"/><stop offset="0.9375" stop-color="#e3e7e6"/><stop offset="1.0000" stop-color="#dee2e1"/></linearGradient><linearGradient id="g63" x1="0" x2="1" y1="0" y2="0"><stop offset="0.0000" stop-color="#f4f4f3"/><stop offset="0.0625" stop-color="#f4f4f3"/><stop offset="0.1250" stop-color="#f4f4f4"/><stop offset="0.1875" stop-color="#f4f5f5"/><stop offset="0.2500" stop-color="#f6f7f7"/><stop offset="0.3125" stop-color="#f7f8f8"/><stop offset="0.3750" stop-color="#f8fafa"/><stop offset="0.4375" stop-color="#f9fcfc"/><stop offset="0.5000" stop-color="#fafdfd"/><stop offset="0.5625" stop-color="#fafdfd"/><stop offset="0.6250" stop-color="#f9fdfd"/><stop offset="0.6875" stop-color="#f8fbfb"/><stop offset="0.7500" stop-color="#f5f8f9"/><stop offset="0.8125" stop-color="#f0f4f4"/><stop offset="0.8750" stop-color="#eaeeee"/><stop offset="0.9375" stop-color="#e2e6e6"/><stop offset="1.0000" stop-color="#dde2e1"/></linearGradient><linearGradient id="g64" x1="0" x2="1" y1="0" y2="0"><stop offset="0.0000" stop-color="#f4f4f3"/><stop offset="0.0625" stop-color="#f3f4f3"/><stop offset="0.1250" stop-color="#f4f4f4"/><stop offset="0.1875" stop-color="#f4f5f5"/><stop offset="0.2500" stop-color="#f5f7f6"/><stop offset="0.3125" stop-color="#f7f8f8"/><stop offset="0.3750" stop-color="#f8fafa"/><stop offset="0.4375" stop-color="#f9fcfc"/><stop offset="0.5000" stop-color="#fafdfd"/><stop offset="0.5625" stop-color="#fafdfd"/><stop offset="0.6250" stop-color="#f9fdfd"/><stop offset="0.6875" stop-color="#f7fbfb"/><stop offset="0.7500" stop-color="#f4f8f8"/><stop offset="0.8125" stop-color="#f0f4f4"/><stop offset="0.8750" stop-color="#eaeeee"/><stop offset="0.9375" stop-color="#e2e6e5"/><stop offset="1.0000" stop-color="#dde1e0"/></linearGradient><linearGradient id="g65" x1="0" x2="1" y1="0" y2="0"><stop offset="0.0000" stop-color="#f3f4f3"/><stop offset="0.0625" stop-color="#f3f3f3"/><stop offset="0.1250" stop-color="#f3f4f4"/><stop offset="0.1875" stop-color="#f4f5f5"/><stop offset="0.2500" stop-color="#f5f7f6"/><stop offset="0.3125" stop-color="#f7f8f8"/><stop offset="0.3750" stop-color="#f8fafa"/><stop offset="0.4375" stop-color="#f9fbfb"/><stop offset="0.5000" stop-color="#fafdfd"/><stop offset="0.5625" stop-color="#fafdfd"/><stop offset="0.6250" stop-color="#f9fcfd"/><stop offset="0.6875" stop-color="#f7fbfb"/><stop offset="0.7500" stop-color="#f4f8f8"/><stop offset="0.8125" stop-color="#f0f4f4"/><stop offset="0.8750" stop-color="#e9eeed"/><stop offset="0.9375" stop-color="#e1e6e5"/><stop offset="1.0000" stop-color="#dde1e0"/></linearGradient><linearGradient id="g66" x1="0" x2="1" y1="0" y2="0"><stop offset="0.0000" stop-color="#f3f3f3"/><stop offset="0.0625" stop-color="#f3f3f3"/><stop offset="0.1250" stop-color="#f3f4f3"/><stop offset="0.1875" stop-color="#f4f5f5"/><stop offset="0.2500" stop-color="#f5f7f6"/><stop offset="0.3125" stop-color="#f6f8f8"/><stop offset="0.3750" stop-color="#f8fafa"/><stop offset="0.4375" stop-color="#f9fbfb"/><stop offset="0.5000" stop-color="#f9fcfc"/><stop offset="0.5625" stop-color="#f9fdfd"/><stop offset="0.6250" stop-color="#f9fcfc"/><stop offset="0.6875" stop-color="#f7fbfb"/><stop offset="0.7500" stop-color="#f4f8f8"/><stop offset="0.8125" stop-color="#eff3f3"/><stop offset="0.8750" stop-color="#e9eded"/><stop offset="0.9375" stop-color="#e1e5e5"/><stop offset="1.0000" stop-color="#dce0e0"/></linearGradient><linearGradient id="g67" x1="0" x2="1" y1="0" y2="0"><stop offset="0.0000" stop-color="#f3f3f3"/><stop offset="0.0625" stop-color="#f3f3f3"/><stop offset="0.1250" stop-color="#f3f4f3"/><stop offset="0.1875" stop-color="#f4f5f4"/><stop offset="0.2500" stop-color="#f5f6f6"/><stop offset="0.3125" stop-color="#f6f8f8"/><stop offset="0.3750" stop-color="#f7fafa"/><stop offset="0.4375" stop-color="#f9fbfb"/><stop offset="0.5000" stop-color="#f9fcfc"/><stop offset="0.5625" stop-color="#f9fdfd"/><stop offset="0.6250" stop-color="#f8fcfc"/><stop offset="0.6875" stop-color="#f7fafb"/><stop offset="0.7500" stop-color="#f3f8f8"/><stop offset="0.8125" stop-color="#eff3f3"/><stop offset="0.8750" stop-color="#e9eded"/><stop offset="0.9375" stop-color="#e1e5e4"/><stop offset="1.0000" stop-color="#dce0df"/></linearGradient><linearGradient id="g68" x1="0" x2="1" y1="0" y2="0"><stop offset="0.0000" stop-color="#f3f3f3"/><stop offset="0.0625" stop-color="#f3f3f3"/><stop offset="0.1250" stop-color="#f3f4f3"/><stop offset="0.1875" stop-color="#f3f5f4"/><stop offset="0.2500" stop-color="#f5f6f6"/><stop offset="0.3125" stop-color="#f6f8f8"/><stop offset="0.3750" stop-color="#f7faf9"/><stop offset="0.4375" stop-color="#f8fbfb"/><stop offset="0.5000" stop-color="#f9fcfc"/><stop offset="0.5625" stop-color="#f9fcfc"/><stop offset="0.6250" stop-color="#f8fcfc"/><stop offset="0.6875" stop-color="#f6fafa"/><stop offset="0.7500" stop-color="#f3f7f7"/><stop offset="0.8125" stop-color="#eff3f3"/><stop offset="0.8750" stop-color="#e8edec"/><stop offset="0.9375" stop-color="#e0e5e4"/><stop offset="1.0000" stop-color="#dbe0df"/></linearGradient><linearGradient id="g69" x1="0" x2="1" y1="0" y2="0"><stop offset="0.0000" stop-color="#f3f3f3"/><stop offset="0.0625" stop-color="#f2f3f2"/><stop offset="0.1250" stop-color="#f2f4f3"/><stop offset="0.1875" stop-color="#f3f5f4"/><stop offset="0.2500" stop-color="#f4f6f6"/><stop offset="0.3125" stop-color="#f6f8f8"/><stop offset="0.3750" stop-color="#f7faf9"/><stop offset="0.4375" stop-color="#f8fbfb"/><stop offset="0.5000" stop-color="#f9fcfc"/><stop offset="0.5625" stop-color="#f9fcfc"/><stop offset="0.6250" stop-color="#f8fcfc"/><stop offset="0.6875" stop-color="#f6fafa"/><stop offset="0.7500" stop-color="#f3f7f7"/><stop offset="0.8125" stop-color="#eef3f2"/><stop offset="0.8750" stop-color="#e8ecec"/><stop offset="0.9375" stop-color="#e0e4e4"/><stop offset="1.0000" stop-color="#dbdfde"/></linearGradient><linearGradient id="g70" x1="0" x2="1" y1="0" y2="0"><stop offset="0.0000" stop-color="#f2f3f2"/><stop offset="0.0625" stop-color="#f2f3f2"/><stop offset="0.1250" stop-color="#f2f4f3"/><stop offset="0.1875" stop-color="#f3f5f4"/><stop offset="0.2500" stop-color="#f4f6f6"/><stop offset="0.3125" stop-color="#f6f8f7"/><stop offset="0.3750" stop-color="#f7faf9"/><stop offset="0.4375" stop-color="#f8fbfb"/><stop offset="0.5000" stop-color="#f9fcfc"/><stop offset="0.5625" stop-color="#f8fcfc"/><stop offset="0.6250" stop-color="#f8fcfc"/><stop offset="0.6875" stop-color="#f6fafa"/><stop offset="0.7500" stop-color="#f3f7f7"/><stop offset="0.8125" stop-color="#eef2f2"/><stop offset="0.8750" stop-color="#e8ecec"/><stop offset="0.9375" stop-color="#dfe4e3"/><stop offset="1.0000" stop-color="#dbdfde"/></linearGradient><linearGradient id="g71" x1="0" x2="1" y1="0" y2="0"><stop offset="0.0000" stop-color="#f2f3f2"/><stop offset="0.0625" stop-color="#f2f3f2"/><stop offset="0.1250" stop-color="#f2f3f3"/><stop offset="0.1875" stop-color="#f3f5f4"/><stop offset="0.2500" stop-color="#f4f6f5"/><stop offset="0.3125" stop-color="#f5f8f7"/><stop offset="0.3750" stop-color="#f7f9f9"/><stop offset="0.4375" stop-color="#f8fbfb"/><stop offset="0.5000" stop-color="#f8fcfc"/><stop offset="0.5625" stop-color="#f8fcfc"/><stop offset="0.6250" stop-color="#f7fbfb"/><stop offset="0.6875" stop-color="#f5fafa"/><stop offset="0.7500" stop-color="#f2f7f6"/><stop offset="0.8125" stop-color="#eef2f2"/><stop offset="0.8750" stop-color="#e7eceb"/><stop offset="0.9375" stop-color="#dfe3e3"/><stop offset="1.0000" stop-color="#dadfde"/></linearGradient><linearGradient id="g72" x1="0" x2="1" y1="0" y2="0"><stop offset="0.0000" stop-color="#f2f3f2"/><stop offset="0.0625" stop-color="#f2f3f2"/><stop offset="0.1250" stop-color="#f2f3f3"/><stop offset="0.1875" stop-color="#f3f4f4"/><stop offset="0.2500" stop-color="#f4f6f5"/><stop offset="0.3125" stop-color="#f5f8f7"/><stop offset="0.3750" stop-color="#f6f9f9"/><stop offset="0.4375" stop-color="#f7fbfa"/><stop offset="0.5000" stop-color="#f8fcfb"/><stop offset="0.5625" stop-color="#f8fcfc"/><stop offset="0.6250" stop-color="#f7fbfb"/><stop offset="0.6875" stop-color="#f5f9f9"/><stop offset="0.7500" stop-color="#f2f6f6"/><stop offset="0.8125" stop-color="#edf2f1"/><stop offset="0.8750" stop-color="#e7ebeb"/><stop offset="0.9375" stop-color="#dfe3e2"/><stop offset="1.0000" stop-color="#dadedd"/></linearGradient><linearGradient id="g73" x1="0" x2="1" y1="0" y2="0"><stop offset="0.0000" stop-color="#f2f3f2"/><stop offset="0.0625" stop-color="#f1f3f2"/><stop offset="0.1250" stop-color="#f2f3f2"/><stop offset="0.1875" stop-color="#f2f4f4"/><stop offset="0.2500" stop-color="#f4f6f5"/><stop offset="0.3125" stop-color="#f5f8f7"/><stop offset="0.3750" stop-color="#f6f9f9"/><stop offset="0.4375" stop-color="#f7fbfa"/><stop offset="0.5000" stop-color="#f8fbfb"/><stop offset="0.5625" stop-color="#f8fcfb"/><stop offset="0.6250" stop-color="#f7fbfb"/><stop offset="0.6875" stop-color="#f5f9f9"/><stop offset="0.7500" stop-color="#f2f6f6"/><stop offset="0.8125" stop-color="#edf1f1"/><stop offset="0.8750" stop-color="#e6ebea"/><stop offset="0.9375" stop-color="#dee3e2"/><stop offset="1.0000" stop-color="#d9dedd"/></linearGradient><linearGradient id="g74" x1="0" x2="1" y1="0" y2="0"><stop offset="0.0000" stop-color="#f1f3f2"/><stop offset="0.0625" stop-color="#f1f3f2"/><stop offset="0.1250" stop-color="#f1f3f2"/><stop offset="0.1875" stop-color="#f2f4f3"/><stop offset="0.2500" stop-color="#f3f6f5"/><stop offset="0.3125" stop-color="#f5f7f7"/><stop offset="0.3750" stop-color="#f6f9f8"/><stop offset="0.4375" stop-color="#f7fafa"/><stop offset="0.5000" stop-color="#f8fbfb"/><stop offset="0.5625" stop-color="#f7fbfb"/><stop offset="0.6250" stop-color="#f7fbfb"/><stop offset="0.6875" stop-color="#f5f9f9"/><stop offset="0.7500" stop-color="#f1f6f6"/><stop offset="0.8125" stop-color="#ecf1f1"/><stop offset="0.8750" stop-color="#e6ebea"/><stop offset="0.9375" stop-color="#dee2e1"/><stop offset="1.0000" stop-color="#d9dddc"/></linearGradient><linearGradient id="g75" x1="0" x2="1" y1="0" y2="0"><stop offset="0.0000" stop-color="#f1f2f1"/><stop offset="0.0625" stop-color="#f1f2f1"/><stop offset="0.1250" stop-color="#f1f3f2"/><stop offset="0.1875" stop-color="#f2f4f3"/><stop offset="0.2500" stop-color="#f3f6f5"/><stop offset="0.3125" stop-color="#f4f7f7"/><stop offset="0.3750" stop-color="#f6f9f8"/><stop offset="0.4375" stop-color="#f7fafa"/><stop offset="0.5000" stop-color="#f7fbfb"/><stop offset="0.5625" stop-color="#f7fbfb"/><stop offset="0.6250" stop-color="#f6fbfa"/><stop offset="0.6875" stop-color="#f4f9f8"/><stop offset="0.7500" stop-color="#f1f5f5"/><stop offset="0.8125" stop-color="#ecf1f0"/><stop offset="0.8750" stop-color="#e6eaea"/><stop offset="0.9375" stop-color="#dde2e1"/><stop offset="1.0000" stop-color="#d8dddc"/></linearGradient><linearGradient id="g76" x1="0" x2="1" y1="0" y2="0"><stop offset="0.0000" stop-color="#f1f2f1"/><stop offset="0.0625" stop-color="#f1f2f1"/><stop offset="0.1250" stop-color="#f1f3f2"/><stop offset="0.1875" stop-color="#f2f4f3"/><stop offset="0.2500" stop-color="#f3f6f5"/><stop offset="0.3125" stop-color="#f4f7f6"/><stop offset="0.3750" stop-color="#f5f9f8"/><stop offset="0.4375" stop-color="#f6fafa"/><stop offset="0.5000" stop-color="#f7fbfa"/><stop offset="0.5625" stop-color="#f7fbfb"/><stop offset="0.6250" stop-color="#f6fafa"/><stop offset="0.6875" stop-color="#f4f8f8"/><stop offset="0.7500" stop-color="#f1f5f5"/><stop offset="0.8125" stop-color="#ecf0f0"/><stop offset="0.8750" stop-color="#e5eae9"/><stop offset="0.9375" stop-color="#dde1e1"/><stop offset="1.0000" stop-color="#d8dcdb"/></linearGradient><linearGradient id="g77" x1="0" x2="1" y1="0" y2="0"><stop offset="0.0000" stop-color="#f0f2f1"/><stop offset="0.0625" stop-color="#f0f2f1"/><stop offset="0.1250" stop-color="#f1f3f2"/><stop offset="0.1875" stop-color="#f1f4f3"/><stop offset="0.2500" stop-color="#f3f5f4"/><stop offset="0.3125" stop-color="#f4f7f6"/><stop offset="0.3750" stop-color="#f5f9f8"/><stop offset="0.4375" stop-color="#f6faf9"/><stop offset="0.5000" stop-color="#f7fbfa"/><stop offset="0.5625" stop-color="#f7fbfa"/><stop offset="0.6250" stop-color="#f6fafa"/><stop offset="0.6875" stop-color="#f4f8f8"/><stop offset="0.7500" stop-color="#f0f5f5"/><stop offset="0.8125" stop-color="#ebf0f0"/><stop offset="0.8750" stop-color="#e5eae9"/><stop offset="0.9375" stop-color="#dce1e0"/><stop offset="1.0000" stop-color="#d7dcdb"/></linearGradient><linearGradient id="g78" x1="0" x2="1" y1="0" y2="0"><stop offset="0.0000" stop-color="#f0f2f1"/><stop offset="0.0625" stop-color="#f0f2f1"/><stop offset="0.1250" stop-color="#f0f3f1"/><stop offset="0.1875" stop-color="#f1f4f3"/><stop offset="0.2500" stop-color="#f2f5f4"/><stop offset="0.3125" stop-color="#f4f7f6"/><stop offset="0.3750" stop-color="#f5f8f8"/><stop offset="0.4375" stop-color="#f6faf9"/><stop offset="0.5000" stop-color="#f6fbfa"/><stop offset="0.5625" stop-color="#f6fbfa"/><stop offset="0.6250" stop-color="#f5faf9"/><stop offset="0.6875" stop-color="#f3f8f7"/><stop offset="0.7500" stop-color="#f0f5f4"/><stop offset="0.8125" stop-color="#ebf0ef"/><stop offset="0.8750" stop-color="#e4e9e8"/><stop offset="0.9375" stop-color="#dce1e0"/><stop offset="1.0000" stop-color="#d7dbda"/></linearGradient><linearGradient id="g79" x1="0" x2="1" y1="0" y2="0"><stop offset="0.0000" stop-color="#f0f2f0"/><stop offset="0.0625" stop-color="#f0f2f0"/><stop offset="0.1250" stop-color="#f0f2f1"/><stop offset="0.1875" stop-color="#f1f4f2"/><stop offset="0.2500" stop-color="#f2f5f4"/><stop offset="0.3125" stop-color="#f3f7f6"/><stop offset="0.3750" stop-color="#f5f8f7"/><stop offset="0.4375" stop-color="#f6faf9"/><stop offset="0.5000" stop-color="#f6fafa"/><stop offset="0.5625" stop-color="#f6fafa"/><stop offset="0.6250" stop-color="#f5faf9"/><stop offset="0.6875" stop-color="#f3f8f7"/><stop offset="0.7500" stop-color="#f0f4f4"/><stop offset="0.8125" stop-color="#ebefef"/><stop offset="0.8750" stop-color="#e4e9e8"/><stop offset="0.9375" stop-color="#dce0df"/><stop offset="1.0000" stop-color="#d7dbda"/></linearGradient><linearGradient id="g80" x1="0" x2="1" y1="0" y2="0"><stop offset="0.0000" stop-color="#f0f2f0"/><stop offset="0.0625" stop-color="#f0f2f0"/><stop offset="0.1250" stop-color="#f0f2f1"/><stop offset="0.1875" stop-color="#f1f3f2"/><stop offset="0.2500" stop-color="#f2f5f4"/><stop offset="0.3125" stop-color="#f3f7f5"/><stop offset="0.3750" stop-color="#f4f8f7"/><stop offset="0.4375" stop-color="#f5f9f9"/><stop offset="0.5000" stop-color="#f6faf9"/><stop offset="0.5625" stop-color="#f6fafa"/><stop offset="0.6250" stop-color="#f5f9f9"/><stop offset="0.6875" stop-color="#f3f7f7"/><stop offset="0.7500" stop-color="#eff4f3"/><stop offset="0.8125" stop-color="#eaefee"/><stop offset="0.8750" stop-color="#e4e8e8"/><stop offset="0.9375" stop-color="#dbe0df"/><stop offset="1.0000" stop-color="#d6dbd9"/></linearGradient><linearGradient id="g81" x1="0" x2="1" y1="0" y2="0"><stop offset="0.0000" stop-color="#eff1f0"/><stop offset="0.0625" stop-color="#eff2f0"/><stop offset="0.1250" stop-color="#f0f2f1"/><stop offset="0.1875" stop-color="#f0f3f2"/><stop offset="0.2500" stop-color="#f2f5f3"/><stop offset="0.3125" stop-color="#f3f6f5"/><stop offset="0.3750" stop-color="#f4f8f7"/><stop offset="0.4375" stop-color="#f5f9f8"/><stop offset="0.5000" stop-color="#f6faf9"/><stop offset="0.5625" stop-color="#f6faf9"/><stop offset="0.6250" stop-color="#f4f9f8"/><stop offset="0.6875" stop-color="#f2f7f6"/><stop offset="0.7500" stop-color="#eff4f3"/><stop offset="0.8125" stop-color="#eaefee"/><stop offset="0.8750" stop-color="#e3e8e7"/><stop offset="0.9375" stop-color="#dbdfde"/><stop offset="1.0000" stop-color="#d6dad9"/></linearGradient><linearGradient id="g82" x1="0" x2="1" y1="0" y2="0"><stop offset="0.0000" stop-color="#eff1f0"/><stop offset="0.0625" stop-color="#eff1f0"/><stop offset="0.1250" stop-color="#eff2f0"/><stop offset="0.1875" stop-color="#f0f3f2"/><stop offset="0.2500" stop-color="#f1f5f3"/><stop offset="0.3125" stop-color="#f3f6f5"/><stop offset="0.3750" stop-color="#f4f8f7"/><stop offset="0.4375" stop-color="#f5f9f8"/><stop offset="0.5000" stop-color="#f5faf9"/><stop offset="0.5625" stop-color="#f5faf9"/><stop offset="0.6250" stop-color="#f4f9f8"/><stop offset="0.6875" stop-color="#f2f7f6"/><stop offset="0.7500" stop-color="#eef3f3"/><stop offset="0.8125" stop-color="#e9eeee"/><stop offset="0.8750" stop-color="#e3e7e7"/><stop offset="0.9375" stop-color="#dadfde"/><stop offset="1.0000" stop-color="#d5dad8"/></linearGradient><linearGradient id="g83" x1="0" x2="1" y1="0" y2="0"><stop offset="0.0000" stop-color="#eff1ef"/><stop offset="0.0625" stop-color="#eff1ef"/><stop offset="0.1250" stop-color="#eff2f0"/><stop offset="0.1875" stop-color="#f0f3f1"/><stop offset="0.2500" stop-color="#f1f4f3"/><stop offset="0.3125" stop-color="#f2f6f5"/><stop offset="0.3750" stop-color="#f4f8f6"/><stop offset="0.4375" stop-color="#f5f9f8"/><stop offset="0.5000" stop-color="#f5f9f9"/><stop offset="0.5625" stop-color="#f5f9f9"/><stop offset="0.6250" stop-color="#f4f8f8"/><stop offset="0.6875" stop-color="#f2f6f6"/><stop offset="0.7500" stop-color="#eef3f2"/><stop offset="0.8125" stop-color="#e9eeed"/><stop offset="0.8750" stop-color="#e2e7e6"/><stop offset="0.9375" stop-color="#dadedd"/><stop offset="1.0000" stop-color="#d5d9d8"/></linearGradient><linearGradient id="g84" x1="0" x2="1" y1="0" y2="0"><stop offset="0.0000" stop-color="#eef1ef"/><stop offset="0.0625" stop-color="#eef1ef"/><stop offset="0.1250" stop-color="#eff2f0"/><stop offset="0.1875" stop-color="#f0f3f1"/><stop offset="0.2500" stop-color="#f1f4f3"/><stop offset="0.3125" stop-color="#f2f6f4"/><stop offset="0.3750" stop-color="#f3f7f6"/><stop offset="0.4375" stop-color="#f4f9f7"/><stop offset="0.5000" stop-color="#f5f9f8"/><stop offset="0.5625" stop-color="#f5f9f8"/><stop offset="0.6250" stop-color="#f4f8f7"/><stop offset="0.6875" stop-color="#f1f6f5"/><stop offset="0.7500" stop-color="#eef3f2"/><stop offset="0.8125" stop-color="#e9eded"/><stop offset="0.8750" stop-color="#e2e7e6"/><stop offset="0.9375" stop-color="#d9dedc"/><stop offset="1.0000" stop-color="#d4d8d7"/></linearGradient><linearGradient id="g85" x1="0" x2="1" y1="0" y2="0"><stop offset="0.0000" stop-color="#eef1ef"/><stop offset="0.0625" stop-color="#eef1ef"/><stop offset="0.1250" stop-color="#eef1f0"/><stop offset="0.1875" stop-color="#eff3f1"/><stop offset="0.2500" stop-color="#f1f4f2"/><stop offset="0.3125" stop-color="#f2f6f4"/><stop offset="0.3750" stop-color="#f3f7f6"/><stop offset="0.4375" stop-color="#f4f8f7"/><stop offset="0.5000" stop-color="#f5f9f8"/><stop offset="0.5625" stop-color="#f4f9f8"/><stop offset="0.6250" stop-color="#f3f8f7"/><stop offset="0.6875" stop-color="#f1f6f5"/><stop offset="0.7500" stop-color="#edf2f1"/><stop offset="0.8125" stop-color="#e8edec"/><stop offset="0.8750" stop-color="#e2e6e5"/><stop offset="0.9375" stop-color="#d9dddc"/><stop offset="1.0000" stop-color="#d4d8d6"/></linearGradient><linearGradient id="g86" x1="0" x2="1" y1="0" y2="0"><stop offset="0.0000" stop-color="#eef1ef"/><stop offset="0.0625" stop-color="#eef1ef"/><stop offset="0.1250" stop-color="#eef1ef"/><stop offset="0.1875" stop-color="#eff2f0"/><stop offset="0.2500" stop-color="#f0f4f2"/><stop offset="0.3125" stop-color="#f2f5f4"/><stop offset="0.3750" stop-color="#f3f7f5"/><stop offset="0.4375" stop-color="#f4f8f7"/><stop offset="0.5000" stop-color="#f4f9f8"/><stop offset="0.5625" stop-color="#f4f9f8"/><stop offset="0.6250" stop-color="#f3f8f7"/><stop offset="0.6875" stop-color="#f1f5f4"/><stop offset="0.7500" stop-color="#edf2f1"/><stop offset="0.8125" stop-color="#e8edec"/><stop offset="0.8750" stop-color="#e1e6e5"/><stop offset="0.9375" stop-color="#d8dddb"/><stop offset="1.0000" stop-color="#d3d7d6"/></linearGradient><linearGradient id="g87" x1="0" x2="1" y1="0" y2="0"><stop offset="0.0000" stop-color="#eef0ee"/><stop offset="0.0625" stop-color="#eef0ee"/><stop offset="0.1250" stop-color="#eef1ef"/><stop offset="0.1875" stop-color="#eff2f0"/><stop offset="0.2500" stop-color="#f0f4f2"/><stop offset="0.3125" stop-color="#f1f5f4"/><stop offset="0.3750" stop-color="#f3f7f5"/><stop offset="0.4375" stop-color="#f4f8f6"/><stop offset="0.5000" stop-color="#f4f8f7"/><stop offset="0.5625" stop-color="#f4f8f7"/><stop offset="0.6250" stop-color="#f3f7f6"/><stop offset="0.6875" stop-color="#f0f5f4"/><stop offset="0.7500" stop-color="#edf1f0"/><stop offset="0.8125" stop-color="#e7eceb"/><stop offset="0.8750" stop-color="#e1e5e4"/><stop offset="0.9375" stop-color="#d8dcdb"/><stop offset="1.0000" stop-color="#d3d7d5"/></linearGradient><linearGradient id="g88" x1="0" x2="1" y1="0" y2="0"><stop offset="0.0000" stop-color="#edf0ee"/><stop offset="0.0625" stop-color="#edf0ee"/><stop offset="0.1250" stop-color="#eef1ef"/><stop offset="0.1875" stop-color="#eff2f0"/><stop offset="0.2500" stop-color="#f0f3f1"/><stop offset="0.3125" stop-color="#f1f5f3"/><stop offset="0.3750" stop-color="#f2f6f5"/><stop offset="0.4375" stop-color="#f3f8f6"/><stop offset="0.5000" stop-color="#f4f8f7"/><stop offset="0.5625" stop-color="#f3f8f7"/><stop offset="0.6250" stop-color="#f2f7f6"/><stop offset="0.6875" stop-color="#f0f5f4"/><stop offset="0.7500" stop-color="#ecf1f0"/><stop offset="0.8125" stop-color="#e7eceb"/><stop offset="0.8750" stop-color="#e0e5e3"/><stop offset="0.9375" stop-color="#d7dcda"/><stop offset="1.0000" stop-color="#d2d6d5"/></linearGradient><linearGradient id="g89" x1="0" x2="1" y1="0" y2="0"><stop offset="0.0000" stop-color="#edf0ee"/><stop offset="0.0625" stop-color="#edf0ee"/><stop offset="0.1250" stop-color="#edf1ee"/><stop offset="0.1875" stop-color="#eef2f0"/><stop offset="0.2500" stop-color="#eff3f1"/><stop offset="0.3125" stop-color="#f1f5f3"/><stop offset="0.3750" stop-color="#f2f6f4"/><stop offset="0.4375" stop-color="#f3f7f6"/><stop offset="0.5000" stop-color="#f3f8f6"/><stop offset="0.5625" stop-color="#f3f8f6"/><stop offset="0.6250" stop-color="#f2f7f5"/><stop offset="0.6875" stop-color="#f0f4f3"/><stop offset="0.7500" stop-color="#ecf1ef"/><stop offset="0.8125" stop-color="#e7ebea"/><stop offset="0.8750" stop-color="#e0e4e3"/><stop offset="0.9375" stop-color="#d7dbd9"/><stop offset="1.0000" stop-color="#d2d6d4"/></linearGradient><linearGradient id="g90" x1="0" x2="1" y1="0" y2="0"><stop offset="0.0000" stop-color="#edf0ed"/><stop offset="0.0625" stop-color="#edf0ed"/><stop offset="0.1250" stop-color="#edf0ee"/><stop offset="0.1875" stop-color="#eef2ef"/><stop offset="0.2500" stop-color="#eff3f1"/><stop offset="0.3125" stop-color="#f1f5f3"/><stop offset="0.3750" stop-color="#f2f6f4"/><stop offset="0.4375" stop-color="#f3f7f5"/><stop offset="0.5000" stop-color="#f3f8f6"/><stop offset="0.5625" stop-color="#f3f7f6"/><stop offset="0.6250" stop-color="#f2f6f5"/><stop offset="0.6875" stop-color="#eff4f3"/><stop offset="0.7500" stop-color="#ebf0ef"/><stop offset="0.8125" stop-color="#e6ebea"/><stop offset="0.8750" stop-color="#dfe4e2"/><stop offset="0.9375" stop-color="#d6dad9"/><stop offset="1.0000" stop-color="#d1d5d3"/></linearGradient><linearGradient id="g91" x1="0" x2="1" y1="0" y2="0"><stop offset="0.0000" stop-color="#ecf0ed"/><stop offset="0.0625" stop-color="#ecf0ed"/><stop offset="0.1250" stop-color="#edf0ee"/><stop offset="0.1875" stop-color="#eef1ef"/><stop offset="0.2500" stop-color="#eff3f0"/><stop offset="0.3125" stop-color="#f0f4f2"/><stop offset="0.3750" stop-color="#f1f6f4"/><stop offset="0.4375" stop-color="#f2f7f5"/><stop offset="0.5000" stop-color="#f3f7f6"/><stop offset="0.5625" stop-color="#f2f7f6"/><stop offset="0.6250" stop-color="#f1f6f5"/><stop offset="0.6875" stop-color="#eff3f2"/><stop offset="0.7500" stop-color="#ebf0ee"/><stop offset="0.8125" stop-color="#e6eae9"/><stop offset="0.8750" stop-color="#dfe3e2"/><stop offset="0.9375" stop-color="#d6dad8"/><stop offset="1.0000" stop-color="#d1d4d3"/></linearGradient><linearGradient id="g92" x1="0" x2="1" y1="0" y2="0"><stop offset="0.0000" stop-color="#ecefed"/><stop offset="0.0625" stop-color="#ecefed"/><stop offset="0.1250" stop-color="#ecf0ed"/><stop offset="0.1875" stop-color="#edf1ef"/><stop offset="0.2500" stop-color="#eff3f0"/><stop offset="0.3125" stop-color="#f0f4f2"/><stop offset="0.3750" stop-color="#f1f5f3"/><stop offset="0.4375" stop-color="#f2f6f5"/><stop offset="0.5000" stop-color="#f2f7f5"/><stop offset="0.5625" stop-color="#f2f7f5"/><stop offset="0.6250" stop-color="#f1f5f4"/><stop offset="0.6875" stop-color="#eef3f2"/><stop offset="0.7500" stop-color="#ebefee"/><stop offset="0.8125" stop-color="#e5eae8"/><stop offset="0.8750" stop-color="#dee3e1"/><stop offset="0.9375" stop-color="#d5d9d8"/><stop offset="1.0000" stop-color="#d0d4d2"/></linearGradient><linearGradient id="g93" x1="0" x2="1" y1="0" y2="0"><stop offset="0.0000" stop-color="#ecefec"/><stop offset="0.0625" stop-color="#ecefec"/><stop offset="0.1250" stop-color="#ecf0ed"/><stop offset="0.1875" stop-color="#edf1ee"/><stop offset="0.2500" stop-color="#eef2f0"/><stop offset="0.3125" stop-color="#f0f4f1"/><stop offset="0.3750" stop-color="#f1f5f3"/><stop offset="0.4375" stop-color="#f2f6f4"/><stop offset="0.5000" stop-color="#f2f7f5"/><stop offset="0.5625" stop-color="#f2f6f5"/><stop offset="0.6250" stop-color="#f1f5f4"/><stop offset="0.6875" stop-color="#eef3f1"/><stop offset="0.7500" stop-color="#eaefed"/><stop offset="0.8125" stop-color="#e5e9e8"/><stop offset="0.8750" stop-color="#dee2e0"/><stop offset="0.9375" stop-color="#d5d9d7"/><stop offset="1.0000" stop-color="#d0d3d1"/></linearGradient><linearGradient id="g94" x1="0" x2="1" y1="0" y2="0"><stop offset="0.0000" stop-color="#ebefec"/><stop offset="0.0625" stop-color="#ebefec"/><stop offset="0.1250" stop-color="#ecefed"/><stop offset="0.1875" stop-color="#edf1ee"/><stop offset="0.2500" stop-color="#eef2ef"/><stop offset="0.3125" stop-color="#eff4f1"/><stop offset="0.3750" stop-color="#f1f5f3"/><stop offset="0.4375" stop-color="#f1f6f4"/><stop offset="0.5000" stop-color="#f2f6f4"/><stop offset="0.5625" stop-color="#f1f6f4"/><stop offset="0.6250" stop-color="#f0f5f3"/><stop offset="0.6875" stop-color="#eef2f1"/><stop offset="0.7500" stop-color="#eaeeed"/><stop offset="0.8125" stop-color="#e5e9e7"/><stop offset="0.8750" stop-color="#dde1e0"/><stop offset="0.9375" stop-color="#d4d8d6"/><stop offset="1.0000" stop-color="#cfd3d1"/></linearGradient><linearGradient id="g95" x1="0" x2="1" y1="0" y2="0"><stop offset="0.0000" stop-color="#ebefeb"/><stop offset="0.0625" stop-color="#ebefeb"/><stop offset="0.1250" stop-color="#ecefec"/><stop offset="0.1875" stop-color="#edf0ed"/><stop offset="0.2500" stop-color="#eef2ef"/><stop offset="0.3125" stop-color="#eff3f1"/><stop offset="0.3750" stop-color="#f0f5f2"/><stop offset="0.4375" stop-color="#f1f6f3"/><stop offset="0.5000" stop-color="#f2f6f4"/><stop offset="0.5625" stop-color="#f1f6f4"/><stop offset="0.6250" stop-color="#f0f4f3"/><stop offset="0.6875" stop-color="#edf2f0"/><stop offset="0.7500" stop-color="#eaeeec"/><stop offset="0.8125" stop-color="#e4e8e7"/><stop offset="0.8750" stop-color="#dde1df"/><stop offset="0.9375" stop-color="#d4d7d6"/><stop offset="1.0000" stop-color="#cfd2d0"/></linearGradient><linearGradient id="g96" x1="0" x2="1" y1="0" y2="0"><stop offset="0.0000" stop-color="#ebeeeb"/><stop offset="0.0625" stop-color="#ebeeeb"/><stop offset="0.1250" stop-color="#ebefec"/><stop offset="0.1875" stop-color="#ecf0ed"/><stop offset="0.2500" stop-color="#edf1ef"/><stop offset="0.3125" stop-color="#eff3f0"/><stop offset="0.3750" stop-color="#f0f4f2"/><stop offset="0.4375" stop-color="#f1f5f3"/><stop offset="0.5000" stop-color="#f1f6f4"/><stop offset="0.5625" stop-color="#f1f5f3"/><stop offset="0.6250" stop-color="#eff4f2"/><stop offset="0.6875" stop-color="#edf1f0"/><stop offset="0.7500" stop-color="#e9edec"/><stop offset="0.8125" stop-color="#e4e8e6"/><stop offset="0.8750" stop-color="#dde0de"/><stop offset="0.9375" stop-color="#d3d7d5"/><stop offset="1.0000" stop-color="#ced1cf"/></linearGradient><linearGradient id="g97" x1="0" x2="1" y1="0" y2="0"><stop offset="0.0000" stop-color="#ebeeeb"/><stop offset="0.0625" stop-color="#ebeeeb"/><stop offset="0.1250" stop-color="#ebefeb"/><stop offset="0.1875" stop-color="#ecf0ed"/><stop offset="0.2500" stop-color="#edf1ee"/><stop offset="0.3125" stop-color="#eff3f0"/><stop offset="0.3750" stop-color="#f0f4f1"/><stop offset="0.4375" stop-color="#f1f5f3"/><stop offset="0.5000" stop-color="#f1f5f3"/><stop offset="0.5625" stop-color="#f0f5f3"/><stop offset="0.6250" stop-color="#eff3f2"/><stop offset="0.6875" stop-color="#edf1ef"/><stop offset="0.7500" stop-color="#e9edeb"/><stop offset="0.8125" stop-color="#e3e7e5"/><stop offset="0.8750" stop-color="#dce0de"/><stop offset="0.9375" stop-color="#d3d6d4"/><stop offset="1.0000" stop-color="#cdd1ce"/></linearGradient><linearGradient id="g98" x1="0" x2="1" y1="0" y2="0"><stop offset="0.0000" stop-color="#eaeeea"/><stop offset="0.0625" stop-color="#eaeeea"/><stop offset="0.1250" stop-color="#ebeeeb"/><stop offset="0.1875" stop-color="#ecf0ec"/><stop offset="0.2500" stop-color="#edf1ee"/><stop offset="0.3125" stop-color="#eef2ef"/><stop offset="0.3750" stop-color="#eff4f1"/><stop offset="0.4375" stop-color="#f0f5f2"/><stop offset="0.5000" stop-color="#f1f5f3"/><stop offset="0.5625" stop-color="#f0f4f2"/><stop offset="0.6250" stop-color="#eff3f1"/><stop offset="0.6875" stop-color="#ecf0ef"/><stop offset="0.7500" stop-color="#e8ecea"/><stop offset="0.8125" stop-color="#e3e7e5"/><stop offset="0.8750" stop-color="#dcdfdd"/><stop offset="0.9375" stop-color="#d2d6d3"/><stop offset="1.0000" stop-color="#cdd0ce"/></linearGradient><linearGradient id="g99" x1="0" x2="1" y1="0" y2="0"><stop offset="0.0000" stop-color="#eaedea"/><stop offset="0.0625" stop-color="#eaedea"/><stop offset="0.1250" stop-color="#eaeeeb"/><stop offset="0.1875" stop-color="#ebefec"/><stop offset="0.2500" stop-color="#edf1ed"/><stop offset="0.3125" stop-color="#eef2ef"/><stop offset="0.3750" stop-color="#eff3f0"/><stop offset="0.4375" stop-color="#f0f4f2"/><stop offset="0.5000" stop-color="#f0f5f2"/><stop offset="0.5625" stop-color="#f0f4f2"/><stop offset="0.6250" stop-color="#eef3f1"/><stop offset="0.6875" stop-color="#ecf0ee"/><stop offset="0.7500" stop-color="#e8ecea"/><stop offset="0.8125" stop-color="#e2e6e4"/><stop offset="0.8750" stop-color="#dbdedc"/><stop offset="0.9375" stop-color="#d2d5d3"/><stop offset="1.0000" stop-color="#cccfcd"/></linearGradient><linearGradient id="g100" x1="0" x2="1" y1="0" y2="0"><stop offset="0.0000" stop-color="#eaede9"/><stop offset="0.0625" stop-color="#eaede9"/><stop offset="0.1250" stop-color="#eaeeea"/><stop offset="0.1875" stop-color="#ebefeb"/><stop offset="0.2500" stop-color="#ecf0ed"/><stop offset="0.3125" stop-color="#eef2ef"/><stop offset="0.3750" stop-color="#eff3f0"/><stop offset="0.4375" stop-color="#f0f4f1"/><stop offset="0.5000" stop-color="#f0f4f2"/><stop offset="0.5625" stop-color="#eff4f1"/><stop offset="0.6250" stop-color="#eef2f0"/><stop offset="0.6875" stop-color="#ebefed"/><stop offset="0.7500" stop-color="#e7ebe9"/><stop offset="0.8125" stop-color="#e2e5e3"/><stop offset="0.8750" stop-color="#dbdedc"/><stop offset="0.9375" stop-color="#d1d4d2"/><stop offset="1.0000" stop-color="#cccecc"/></linearGradient><linearGradient id="g101" x1="0" x2="1" y1="0" y2="0"><stop offset="0.0000" stop-color="#e9ede9"/><stop offset="0.0625" stop-color="#e9ede9"/><stop offset="0.1250" stop-color="#eaeeea"/><stop offset="0.1875" stop-color="#ebefeb"/><stop offset="0.2500" stop-color="#ecf0ec"/><stop offset="0.3125" stop-color="#edf1ee"/><stop offset="0.3750" stop-color="#eef3f0"/><stop offset="0.4375" stop-color="#eff3f1"/><stop offset="0.5000" stop-color="#f0f4f1"/><stop offset="0.5625" stop-color="#eff3f1"/><stop offset="0.6250" stop-color="#eef2ef"/><stop offset="0.6875" stop-color="#ebefed"/><stop offset="0.7500" stop-color="#e7ebe9"/><stop offset="0.8125" stop-color="#e1e5e3"/><stop offset="0.8750" stop-color="#dadddb"/><stop offset="0.9375" stop-color="#d1d3d1"/><stop offset="1.0000" stop-color="#cbcecb"/></linearGradient><linearGradient id="g102" x1="0" x2="1" y1="0" y2="0"><stop offset="0.0000" stop-color="#e9ece8"/><stop offset="0.0625" stop-color="#e9ede9"/><stop offset="0.1250" stop-color="#e9ede9"/><stop offset="0.1875" stop-color="#eaeeea"/><stop offset="0.2500" stop-color="#ecf0ec"/><stop offset="0.3125" stop-color="#edf1ee"/><stop offset="0.3750" stop-color="#eef2ef"/><stop offset="0.4375" stop-color="#eff3f0"/><stop offset="0.5000" stop-color="#eff3f1"/><stop offset="0.5625" stop-color="#eff3f0"/><stop offset="0.6250" stop-color="#edf1ef"/><stop offset="0.6875" stop-color="#ebeeec"/><stop offset="0.7500" stop-color="#e7eae8"/><stop offset="0.8125" stop-color="#e1e4e2"/><stop offset="0.8750" stop-color="#daddda"/><stop offset="0.9375" stop-color="#d0d3d0"/><stop offset="1.0000" stop-color="#cbcdca"/></linearGradient><linearGradient id="g103" x1="0" x2="1" y1="0" y2="0"><stop offset="0.0000" stop-color="#e9ece8"/><stop offset="0.0625" stop-color="#e9ece8"/><stop offset="0.1250" stop-color="#e9ede9"/><stop offset="0.1875" stop-color="#eaeeea"/><stop offset="0.2500" stop-color="#ebefec"/><stop offset="0.3125" stop-color="#edf1ed"/><stop offset="0.3750" stop-color="#eef2ef"/><stop offset="0.4375" stop-color="#eff3f0"/><stop offset="0.5000" stop-color="#eff3f0"/><stop offset="0.5625" stop-color="#eef2f0"/><stop offset="0.6250" stop-color="#edf1ee"/><stop offset="0.6875" stop-color="#eaeeeb"/><stop offset="0.7500" stop-color="#e6eae7"/><stop offset="0.8125" stop-color="#e1e4e1"/><stop offset="0.8750" stop-color="#d9dcd9"/><stop offset="0.9375" stop-color="#d0d2cf"/><stop offset="1.0000" stop-color="#caccca"/></linearGradient><linearGradient id="g104" x1="0" x2="1" y1="0" y2="0"><stop offset="0.0000" stop-color="#e8ece7"/><stop offset="0.0625" stop-color="#e8ece8"/><stop offset="0.1250" stop-color="#e9ede8"/><stop offset="0.1875" stop-color="#eaeeea"/><stop offset="0.2500" stop-color="#ebefeb"/><stop offset="0.3125" stop-color="#ecf0ed"/><stop offset="0.3750" stop-color="#eef1ee"/><stop offset="0.4375" stop-color="#eef2ef"/><stop offset="0.5000" stop-color="#eff2ef"/><stop offset="0.5625" stop-color="#eef2ef"/><stop offset="0.6250" stop-color="#edf0ee"/><stop offset="0.6875" stop-color="#eaedeb"/><stop offset="0.7500" stop-color="#e6e9e7"/><stop offset="0.8125" stop-color="#e0e3e1"/><stop offset="0.8750" stop-color="#d9dbd9"/><stop offset="0.9375" stop-color="#cfd1cf"/><stop offset="1.0000" stop-color="#cacbc9"/></linearGradient><linearGradient id="g105" x1="0" x2="1" y1="0" y2="0"><stop offset="0.0000" stop-color="#e8ebe7"/><stop offset="0.0625" stop-color="#e8ece7"/><stop offset="0.1250" stop-color="#e9ece8"/><stop offset="0.1875" stop-color="#eaede9"/><stop offset="0.2500" stop-color="#ebefeb"/><stop offset="0.3125" stop-color="#ecf0ec"/><stop offset="0.3750" stop-color="#edf1ee"/><stop offset="0.4375" stop-color="#eef2ef"/><stop offset="0.5000" stop-color="#eef2ef"/><stop offset="0.5625" stop-color="#eef1ee"/><stop offset="0.6250" stop-color="#ecf0ed"/><stop offset="0.6875" stop-color="#e9edea"/><stop offset="0.7500" stop-color="#e5e8e6"/><stop offset="0.8125" stop-color="#e0e2e0"/><stop offset="0.8750" stop-color="#d8dad8"/><stop offset="0.9375" stop-color="#cfd1ce"/><stop offset="1.0000" stop-color="#c9cbc8"/></linearGradient><linearGradient id="g106" x1="0" x2="1" y1="0" y2="0"><stop offset="0.0000" stop-color="#e8ebe6"/><stop offset="0.0625" stop-color="#e8ebe7"/><stop offset="0.1250" stop-color="#e8ece7"/><stop offset="0.1875" stop-color="#e9ede9"/><stop offset="0.2500" stop-color="#eaeeea"/><stop offset="0.3125" stop-color="#ecf0ec"/><stop offset="0.3750" stop-color="#edf1ed"/><stop offset="0.4375" stop-color="#eef1ee"/><stop offset="0.5000" stop-color="#eef2ee"/><stop offset="0.5625" stop-color="#edf1ee"/><stop offset="0.6250" stop-color="#ecefec"/><stop offset="0.6875" stop-color="#e9ece9"/><stop offset="0.7500" stop-color="#e5e8e5"/><stop offset="0.8125" stop-color="#dfe2df"/><stop offset="0.8750" stop-color="#d8dad7"/><stop offset="0.9375" stop-color="#ced0cd"/><stop offset="1.0000" stop-color="#c9cac7"/></linearGradient><linearGradient id="g107" x1="0" x2="1" y1="0" y2="0"><stop offset="0.0000" stop-color="#e7ebe6"/><stop offset="0.0625" stop-color="#e7ebe6"/><stop offset="0.1250" stop-color="#e8ece7"/><stop offset="0.1875" stop-color="#e9ede8"/><stop offset="0.2500" stop-color="#eaeeea"/><stop offset="0.3125" stop-color="#ecefeb"/><stop offset="0.3750" stop-color="#edf0ed"/><stop offset="0.4375" stop-color="#edf1ee"/><stop offset="0.5000" stop-color="#eef1ee"/><stop offset="0.5625" stop-color="#edf1ed"/><stop offset="0.6250" stop-color="#ebefec"/><stop offset="0.6875" stop-color="#e9ece9"/><stop offset="0.7500" stop-color="#e5e7e5"/><stop offset="0.8125" stop-color="#dfe1df"/><stop offset="0.8750" stop-color="#d7d9d6"/><stop offset="0.9375" stop-color="#cecfcc"/><stop offset="1.0000" stop-color="#c8c9c6"/></linearGradient><linearGradient id="g108" x1="0" x2="1" y1="0" y2="0"><stop offset="0.0000" stop-color="#e7ebe6"/><stop offset="0.0625" stop-color="#e7ebe6"/><stop offset="0.1250" stop-color="#e8ece7"/><stop offset="0.1875" stop-color="#e9ede8"/><stop offset="0.2500" stop-color="#eaeeea"/><stop offset="0.3125" stop-color="#ecefeb"/><stop offset="0.3750" stop-color="#edf0ed"/><stop offset="0.4375" stop-color="#edf1ee"/><stop offset="0.5000" stop-color="#eef1ee"/><stop offset="0.5625" stop-color="#edf1ed"/><stop offset="0.6250" stop-color="#ebefec"/><stop offset="0.6875" stop-color="#e9ece9"/><stop offset="0.7500" stop-color="#e5e7e5"/><stop offset="0.8125" stop-color="#dfe1df"/><stop offset="0.8750" stop-color="#d7d9d6"/><stop offset="0.9375" stop-color="#cecfcc"/><stop offset="1.0000" stop-color="#c8c9c6"/></linearGradient><linearGradient id="g109" x1="0" x2="1" y1="0" y2="0"><stop offset="0.0000" stop-color="#e7ebe6"/><stop offset="0.0625" stop-color="#e7ebe6"/><stop offset="0.1250" stop-color="#e8ece7"/><stop offset="0.1875" stop-color="#e9ede8"/><stop offset="0.2500" stop-color="#eaeeea"/><stop offset="0.3125" stop-color="#ecefeb"/><stop offset="0.3750" stop-color="#edf0ed"/><stop offset="0.4375" stop-color="#edf1ee"/><stop offset="0.5000" stop-color="#eef1ee"/><stop offset="0.5625" stop-color="#edf1ed"/><stop offset="0.6250" stop-color="#ebefec"/><stop offset="0.6875" stop-color="#e9ece9"/><stop offset="0.7500" stop-color="#e5e7e5"/><stop offset="0.8125" stop-color="#dfe1df"/><stop offset="0.8750" stop-color="#d7d9d6"/><stop offset="0.9375" stop-color="#cecfcc"/><stop offset="1.0000" stop-color="#c8c9c6"/></linearGradient></defs>
<rect x="-40" y="-20" width="1280" height="9" fill="url(#g0)"/>
<rect x="-40" y="-12" width="1280" height="9" fill="url(#g1)"/>
<rect x="-40" y="-4" width="1280" height="9" fill="url(#g2)"/>
<rect x="-40" y="4" width="1280" height="9" fill="url(#g3)"/>
<rect x="-40" y="12" width="1280" height="9" fill="url(#g4)"/>
<rect x="-40" y="20" width="1280" height="9" fill="url(#g5)"/>
<rect x="-40" y="28" width="1280" height="9" fill="url(#g6)"/>
<rect x="-40" y="36" width="1280" height="9" fill="url(#g7)"/>
<rect x="-40" y="44" width="1280" height="9" fill="url(#g8)"/>
<rect x="-40" y="52" width="1280" height="9" fill="url(#g9)"/>
<rect x="-40" y="60" width="1280" height="9" fill="url(#g10)"/>
<rect x="-40" y="68" width="1280" height="9" fill="url(#g11)"/>
<rect x="-40" y="76" width="1280" height="9" fill="url(#g12)"/>
<rect x="-40" y="84" width="1280" height="9" fill="url(#g13)"/>
<rect x="-40" y="92" width="1280" height="9" fill="url(#g14)"/>
<rect x="-40" y="100" width="1280" height="9" fill="url(#g15)"/>
<rect x="-40" y="108" width="1280" height="9" fill="url(#g16)"/>
<rect x="-40" y="116" width="1280" height="9" fill="url(#g17)"/>
<rect x="-40" y="124" width="1280" height="9" fill="url(#g18)"/>
<rect x="-40" y="132" width="1280" height="9" fill="url(#g19)"/>
<rect x="-40" y="140" width="1280" height="9" fill="url(#g20)"/>
<rect x="-40" y="148" width="1280" height="9" fill="url(#g21)"/>
<rect x="-40" y="156" width="1280" height="9" fill="url(#g22)"/>
<rect x="-40" y="164" width="1280" height="9" fill="url(#g23)"/>
<rect x="-40" y="172" width="1280" height="9" fill="url(#g24)"/>
<rect x="-40" y="180" width="1280" height="9" fill="url(#g25)"/>
<rect x="-40" y="188" width="1280" height="9" fill="url(#g26)"/>
<rect x="-40" y="196" width="1280" height="9" fill="url(#g27)"/>
<rect x="-40" y="204" width="1280" height="9" fill="url(#g28)"/>
<rect x="-40" y="212" width="1280" height="9" fill="url(#g29)"/>
<rect x="-40" y="220" width="1280" height="9" fill="url(#g30)"/>
<rect x="-40" y="228" width="1280" height="9" fill="url(#g31)"/>
<rect x="-40" y="236" width="1280" height="9" fill="url(#g32)"/>
<rect x="-40" y="244" width="1280" height="9" fill="url(#g33)"/>
<rect x="-40" y="252" width="1280" height="9" fill="url(#g34)"/>
<rect x="-40" y="260" width="1280" height="9" fill="url(#g35)"/>
<rect x="-40" y="268" width="1280" height="9" fill="url(#g36)"/>
<rect x="-40" y="276" width="1280" height="9" fill="url(#g37)"/>
<rect x="-40" y="284" width="1280" height="9" fill="url(#g38)"/>
<rect x="-40" y="292" width="1280" height="9" fill="url(#g39)"/>
<rect x="-40" y="300" width="1280" height="9" fill="url(#g40)"/>
<rect x="-40" y="308" width="1280" height="9" fill="url(#g41)"/>
<rect x="-40" y="316" width="1280" height="9" fill="url(#g42)"/>
<rect x="-40" y="324" width="1280" height="9" fill="url(#g43)"/>
<rect x="-40" y="332" width="1280" height="9" fill="url(#g44)"/>
<rect x="-40" y="340" width="1280" height="9" fill="url(#g45)"/>
<rect x="-40" y="348" width="1280" height="9" fill="url(#g46)"/>
<rect x="-40" y="356" width="1280" height="9" fill="url(#g47)"/>
<rect x="-40" y="364" width="1280" height="9" fill="url(#g48)"/>
<rect x="-40" y="372" width="1280" height="9" fill="url(#g49)"/>
<rect x="-40" y="380" width="1280" height="9" fill="url(#g50)"/>
<rect x="-40" y="388" width="1280" height="9" fill="url(#g51)"/>
<rect x="-40" y="396" width="1280" height="9" fill="url(#g52)"/>
<rect x="-40" y="404" width="1280" height="9" fill="url(#g53)"/>
<rect x="-40" y="412" width="1280" height="9" fill="url(#g54)"/>
<rect x="-40" y="420" width="1280" height="9" fill="url(#g55)"/>
<rect x="-40" y="428" width="1280" height="9" fill="url(#g56)"/>
<rect x="-40" y="436" width="1280" height="9" fill="url(#g57)"/>
<rect x="-40" y="444" width="1280" height="9" fill="url(#g58)"/>
<rect x="-40" y="452" width="1280" height="9" fill="url(#g59)"/>
<rect x="-40" y="460" width="1280" height="9" fill="url(#g60)"/>
<rect x="-40" y="468" width="1280" height="9" fill="url(#g61)"/>
<rect x="-40" y="476" width="1280" height="9" fill="url(#g62)"/>
<rect x="-40" y="484" width="1280" height="9" fill="url(#g63)"/>
<rect x="-40" y="492" width="1280" height="9" fill="url(#g64)"/>
<rect x="-40" y="500" width="1280" height="9" fill="url(#g65)"/>
<rect x="-40" y="508" width="1280" height="9" fill="url(#g66)"/>
<rect x="-40" y="516" width="1280" height="9" fill="url(#g67)"/>
<rect x="-40" y="524" width="1280" height="9" fill="url(#g68)"/>
<rect x="-40" y="532" width="1280" height="9" fill="url(#g69)"/>
<rect x="-40" y="540" width="1280" height="9" fill="url(#g70)"/>
<rect x="-40" y="548" width="1280" height="9" fill="url(#g71)"/>
<rect x="-40" y="556" width="1280" height="9" fill="url(#g72)"/>
<rect x="-40" y="564" width="1280" height="9" fill="url(#g73)"/>
<rect x="-40" y="572" width="1280" height="9" fill="url(#g74)"/>
<rect x="-40" y="580" width="1280" height="9" fill="url(#g75)"/>
<rect x="-40" y="588" width="1280" height="9" fill="url(#g76)"/>
<rect x="-40" y="596" width="1280" height="9" fill="url(#g77)"/>
<rect x="-40" y="604" width="1280" height="9" fill="url(#g78)"/>
<rect x="-40" y="612" width="1280" height="9" fill="url(#g79)"/>
<rect x="-40" y="620" width="1280" height="9" fill="url(#g80)"/>
<rect x="-40" y="628" width="1280" height="9" fill="url(#g81)"/>
<rect x="-40" y="636" width="1280" height="9" fill="url(#g82)"/>
<rect x="-40" y="644" width="1280" height="9" fill="url(#g83)"/>
<rect x="-40" y="652" width="1280" height="9" fill="url(#g84)"/>
<rect x="-40" y="660" width="1280" height="9" fill="url(#g85)"/>
<rect x="-40" y="668" width="1280" height="9" fill="url(#g86)"/>
<rect x="-40" y="676" width="1280" height="9" fill="url(#g87)"/>
<rect x="-40" y="684" width="1280" height="9" fill="url(#g88)"/>
<rect x="-40" y="692" width="1280" height="9" fill="url(#g89)"/>
<rect x="-40" y="700" width="1280" height="9" fill="url(#g90)"/>
<rect x="-40" y="708" width="1280" height="9" fill="url(#g91)"/>
<rect x="-40" y="716" width="1280" height="9" fill="url(#g92)"/>
<rect x="-40" y="724" width="1280" height="9" fill="url(#g93)"/>
<rect x="-40" y="732" width="1280" height="9" fill="url(#g94)"/>
<rect x="-40" y="740" width="1280" height="9" fill="url(#g95)"/>
<rect x="-40" y="748" width="1280" height="9" fill="url(#g96)"/>
<rect x="-40" y="756" width="1280" height="9" fill="url(#g97)"/>
<rect x="-40" y="764" width="1280" height="9" fill="url(#g98)"/>
<rect x="-40" y="772" width="1280" height="9" fill="url(#g99)"/>
<rect x="-40" y="780" width="1280" height="9" fill="url(#g100)"/>
<rect x="-40" y="788" width="1280" height="9" fill="url(#g101)"/>
<rect x="-40" y="796" width="1280" height="9" fill="url(#g102)"/>
<rect x="-40" y="804" width="1280" height="9" fill="url(#g103)"/>
<rect x="-40" y="812" width="1280" height="9" fill="url(#g104)"/>
<rect x="-40" y="820" width="1280" height="9" fill="url(#g105)"/>
<rect x="-40" y="828" width="1280" height="9" fill="url(#g106)"/>
<rect x="-40" y="836" width="1280" height="9" fill="url(#g107)"/>
<rect x="-40" y="844" width="1280" height="9" fill="url(#g108)"/>
<rect x="-40" y="852" width="1280" height="9" fill="url(#g109)"/>
</g>
<path d="M0,640 C7,690 15,760 24,838 L0,838 Z" fill="#3a3020" opacity="0.09" filter="url(#soft)"/>
<path d="M1200,690 C1198,720 1193,760 1187,810 L1187,838 L1200,838 Z" fill="#d6d3c8"/>
<rect x="1186.5" y="810" width="14" height="28" fill="#141210"/>
</svg>
</body></html>
